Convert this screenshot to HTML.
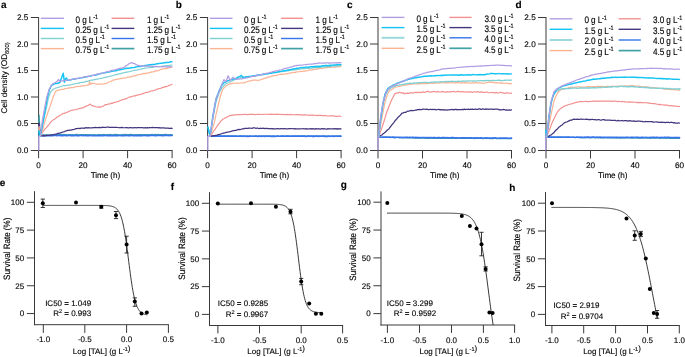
<!DOCTYPE html>
<html><head><meta charset="utf-8"><style>
html,body{margin:0;padding:0;background:#fff;overflow:hidden}
svg{display:block;will-change:transform}
text{text-rendering:geometricPrecision;stroke:#000;stroke-width:0.12px;paint-order:stroke}
text{font-family:"Liberation Sans", sans-serif}
</style></head><body>
<svg width="685" height="357" viewBox="0 0 685 357" font-family='"Liberation Sans", sans-serif'>
<rect width="685" height="357" fill="#fff"/>
<text x="1.0" y="8.2" font-size="10" text-anchor="start" fill="#000" font-weight="bold" >a</text>
<line x1="38.6" y1="17.0" x2="38.6" y2="151" stroke="#3a3a3a" stroke-width="1"/>
<line x1="30.900000000000002" y1="17.5" x2="38.6" y2="17.5" stroke="#3a3a3a" stroke-width="1"/>
<text x="28.3" y="20.0" font-size="8.2" text-anchor="end" fill="#000" font-weight="normal" >2.5</text>
<line x1="30.900000000000002" y1="44.0" x2="38.6" y2="44.0" stroke="#3a3a3a" stroke-width="1"/>
<text x="28.3" y="46.5" font-size="8.2" text-anchor="end" fill="#000" font-weight="normal" >2.0</text>
<line x1="30.900000000000002" y1="70.5" x2="38.6" y2="70.5" stroke="#3a3a3a" stroke-width="1"/>
<text x="28.3" y="73.0" font-size="8.2" text-anchor="end" fill="#000" font-weight="normal" >1.5</text>
<line x1="30.900000000000002" y1="97.0" x2="38.6" y2="97.0" stroke="#3a3a3a" stroke-width="1"/>
<text x="28.3" y="99.5" font-size="8.2" text-anchor="end" fill="#000" font-weight="normal" >1.0</text>
<line x1="30.900000000000002" y1="123.5" x2="38.6" y2="123.5" stroke="#3a3a3a" stroke-width="1"/>
<text x="28.3" y="126.0" font-size="8.2" text-anchor="end" fill="#000" font-weight="normal" >0.5</text>
<line x1="30.900000000000002" y1="150.5" x2="38.6" y2="150.5" stroke="#3a3a3a" stroke-width="1"/>
<text x="28.3" y="153.0" font-size="8.2" text-anchor="end" fill="#000" font-weight="normal" >0.0</text>
<line x1="30.900000000000002" y1="150.5" x2="172.6" y2="150.5" stroke="#3a3a3a" stroke-width="1"/>
<line x1="38.6" y1="150.5" x2="38.6" y2="158.2" stroke="#3a3a3a" stroke-width="1"/>
<text x="38.6" y="167.8" font-size="8.2" text-anchor="middle" fill="#000" font-weight="normal" >0</text>
<line x1="83.1" y1="150.5" x2="83.1" y2="158.2" stroke="#3a3a3a" stroke-width="1"/>
<text x="83.1" y="167.8" font-size="8.2" text-anchor="middle" fill="#000" font-weight="normal" >20</text>
<line x1="127.6" y1="150.5" x2="127.6" y2="158.2" stroke="#3a3a3a" stroke-width="1"/>
<text x="127.6" y="167.8" font-size="8.2" text-anchor="middle" fill="#000" font-weight="normal" >40</text>
<line x1="172.1" y1="150.5" x2="172.1" y2="158.2" stroke="#3a3a3a" stroke-width="1"/>
<text x="172.1" y="167.8" font-size="8.2" text-anchor="middle" fill="#000" font-weight="normal" >60</text>
<text x="105.35" y="177.8" font-size="8.2" text-anchor="middle" fill="#000" font-weight="normal" letter-spacing="-0.1">Time (h)</text>
<text transform="translate(6.900000000000002,77.9) rotate(-90)" font-size="8.2" text-anchor="middle" fill="#000">Cell density (OD<tspan dy="2.3" font-size="5.8">600)</tspan></text>
<line x1="40.8" y1="18.3" x2="63.9" y2="18.3" stroke="#b29de3" stroke-width="1.4"/>
<text transform="translate(75.6,22.5) scale(1,1.15)" x="0" y="0" font-size="8.2" fill="#000" letter-spacing="-0.1">0 g L<tspan dy="-3" font-size="5.5">-1</tspan></text>
<line x1="40.8" y1="28.4" x2="63.9" y2="28.4" stroke="#12c3f3" stroke-width="1.4"/>
<text transform="translate(75.6,32.6) scale(1,1.15)" x="0" y="0" font-size="8.2" fill="#000" letter-spacing="-0.1">0.25 g L<tspan dy="-3" font-size="5.5">-1</tspan></text>
<line x1="40.8" y1="38.5" x2="63.9" y2="38.5" stroke="#7fd0d2" stroke-width="1.4"/>
<text transform="translate(75.6,42.7) scale(1,1.15)" x="0" y="0" font-size="8.2" fill="#000" letter-spacing="-0.1">0.5 g L<tspan dy="-3" font-size="5.5">-1</tspan></text>
<line x1="40.8" y1="48.6" x2="63.9" y2="48.6" stroke="#fab393" stroke-width="1.4"/>
<text transform="translate(75.6,52.800000000000004) scale(1,1.15)" x="0" y="0" font-size="8.2" fill="#000" letter-spacing="-0.1">0.75 g L<tspan dy="-3" font-size="5.5">-1</tspan></text>
<line x1="111.6" y1="18.3" x2="134.3" y2="18.3" stroke="#f39090" stroke-width="1.4"/>
<text transform="translate(146.9,22.5) scale(1,1.15)" x="0" y="0" font-size="8.2" fill="#000" letter-spacing="-0.1">1 g L<tspan dy="-3" font-size="5.5">-1</tspan></text>
<line x1="111.6" y1="28.4" x2="134.3" y2="28.4" stroke="#45357e" stroke-width="1.4"/>
<text transform="translate(146.9,32.6) scale(1,1.15)" x="0" y="0" font-size="8.2" fill="#000" letter-spacing="-0.1">1.25 g L<tspan dy="-3" font-size="5.5">-1</tspan></text>
<line x1="111.6" y1="38.5" x2="134.3" y2="38.5" stroke="#3574ea" stroke-width="1.4"/>
<text transform="translate(146.9,42.7) scale(1,1.15)" x="0" y="0" font-size="8.2" fill="#000" letter-spacing="-0.1">1.5 g L<tspan dy="-3" font-size="5.5">-1</tspan></text>
<line x1="111.6" y1="48.6" x2="134.3" y2="48.6" stroke="#41a2a6" stroke-width="1.7"/>
<text transform="translate(146.9,52.800000000000004) scale(1,1.15)" x="0" y="0" font-size="8.2" fill="#000" letter-spacing="-0.1">1.75 g L<tspan dy="-3" font-size="5.5">-1</tspan></text>
<text x="175.8" y="7.9" font-size="10" text-anchor="start" fill="#000" font-weight="bold" >b</text>
<line x1="207.6" y1="17.0" x2="207.6" y2="151" stroke="#3a3a3a" stroke-width="1"/>
<line x1="199.9" y1="17.5" x2="207.6" y2="17.5" stroke="#3a3a3a" stroke-width="1"/>
<text x="197.29999999999998" y="20.0" font-size="8.2" text-anchor="end" fill="#000" font-weight="normal" >2.5</text>
<line x1="199.9" y1="44.0" x2="207.6" y2="44.0" stroke="#3a3a3a" stroke-width="1"/>
<text x="197.29999999999998" y="46.5" font-size="8.2" text-anchor="end" fill="#000" font-weight="normal" >2.0</text>
<line x1="199.9" y1="70.5" x2="207.6" y2="70.5" stroke="#3a3a3a" stroke-width="1"/>
<text x="197.29999999999998" y="73.0" font-size="8.2" text-anchor="end" fill="#000" font-weight="normal" >1.5</text>
<line x1="199.9" y1="97.0" x2="207.6" y2="97.0" stroke="#3a3a3a" stroke-width="1"/>
<text x="197.29999999999998" y="99.5" font-size="8.2" text-anchor="end" fill="#000" font-weight="normal" >1.0</text>
<line x1="199.9" y1="123.5" x2="207.6" y2="123.5" stroke="#3a3a3a" stroke-width="1"/>
<text x="197.29999999999998" y="126.0" font-size="8.2" text-anchor="end" fill="#000" font-weight="normal" >0.5</text>
<line x1="199.9" y1="150.5" x2="207.6" y2="150.5" stroke="#3a3a3a" stroke-width="1"/>
<text x="197.29999999999998" y="153.0" font-size="8.2" text-anchor="end" fill="#000" font-weight="normal" >0.0</text>
<line x1="199.9" y1="150.5" x2="341.6" y2="150.5" stroke="#3a3a3a" stroke-width="1"/>
<line x1="207.6" y1="150.5" x2="207.6" y2="158.2" stroke="#3a3a3a" stroke-width="1"/>
<text x="207.6" y="167.8" font-size="8.2" text-anchor="middle" fill="#000" font-weight="normal" >0</text>
<line x1="252.1" y1="150.5" x2="252.1" y2="158.2" stroke="#3a3a3a" stroke-width="1"/>
<text x="252.1" y="167.8" font-size="8.2" text-anchor="middle" fill="#000" font-weight="normal" >20</text>
<line x1="296.6" y1="150.5" x2="296.6" y2="158.2" stroke="#3a3a3a" stroke-width="1"/>
<text x="296.6" y="167.8" font-size="8.2" text-anchor="middle" fill="#000" font-weight="normal" >40</text>
<line x1="341.1" y1="150.5" x2="341.1" y2="158.2" stroke="#3a3a3a" stroke-width="1"/>
<text x="341.1" y="167.8" font-size="8.2" text-anchor="middle" fill="#000" font-weight="normal" >60</text>
<text x="274.35" y="177.8" font-size="8.2" text-anchor="middle" fill="#000" font-weight="normal" letter-spacing="-0.1">Time (h)</text>
<line x1="209.8" y1="18.3" x2="232.5" y2="18.3" stroke="#b29de3" stroke-width="1.4"/>
<text transform="translate(244.1,22.5) scale(1,1.15)" x="0" y="0" font-size="8.2" fill="#000" letter-spacing="-0.1">0 g L<tspan dy="-3" font-size="5.5">-1</tspan></text>
<line x1="209.8" y1="28.4" x2="232.5" y2="28.4" stroke="#12c3f3" stroke-width="1.4"/>
<text transform="translate(244.1,32.6) scale(1,1.15)" x="0" y="0" font-size="8.2" fill="#000" letter-spacing="-0.1">0.25 g L<tspan dy="-3" font-size="5.5">-1</tspan></text>
<line x1="209.8" y1="38.5" x2="232.5" y2="38.5" stroke="#7fd0d2" stroke-width="1.4"/>
<text transform="translate(244.1,42.7) scale(1,1.15)" x="0" y="0" font-size="8.2" fill="#000" letter-spacing="-0.1">0.5 g L<tspan dy="-3" font-size="5.5">-1</tspan></text>
<line x1="209.8" y1="48.6" x2="232.5" y2="48.6" stroke="#fab393" stroke-width="1.4"/>
<text transform="translate(244.1,52.800000000000004) scale(1,1.15)" x="0" y="0" font-size="8.2" fill="#000" letter-spacing="-0.1">0.75 g L<tspan dy="-3" font-size="5.5">-1</tspan></text>
<line x1="281.1" y1="18.3" x2="302.9" y2="18.3" stroke="#f39090" stroke-width="1.4"/>
<text transform="translate(315.6,22.5) scale(1,1.15)" x="0" y="0" font-size="8.2" fill="#000" letter-spacing="-0.1">1 g L<tspan dy="-3" font-size="5.5">-1</tspan></text>
<line x1="281.1" y1="28.4" x2="302.9" y2="28.4" stroke="#45357e" stroke-width="1.4"/>
<text transform="translate(315.6,32.6) scale(1,1.15)" x="0" y="0" font-size="8.2" fill="#000" letter-spacing="-0.1">1.25 g L<tspan dy="-3" font-size="5.5">-1</tspan></text>
<line x1="281.1" y1="38.5" x2="302.9" y2="38.5" stroke="#3574ea" stroke-width="1.4"/>
<text transform="translate(315.6,42.7) scale(1,1.15)" x="0" y="0" font-size="8.2" fill="#000" letter-spacing="-0.1">1.5 g L<tspan dy="-3" font-size="5.5">-1</tspan></text>
<line x1="281.1" y1="48.6" x2="302.9" y2="48.6" stroke="#41a2a6" stroke-width="1.7"/>
<text transform="translate(315.6,52.800000000000004) scale(1,1.15)" x="0" y="0" font-size="8.2" fill="#000" letter-spacing="-0.1">1.75 g L<tspan dy="-3" font-size="5.5">-1</tspan></text>
<text x="347.0" y="8.4" font-size="10" text-anchor="start" fill="#000" font-weight="bold" >c</text>
<line x1="378.0" y1="17.0" x2="378.0" y2="151" stroke="#3a3a3a" stroke-width="1"/>
<line x1="370.0" y1="17.5" x2="378.0" y2="17.5" stroke="#3a3a3a" stroke-width="1"/>
<text x="367.7" y="20.0" font-size="8.2" text-anchor="end" fill="#000" font-weight="normal" >2.5</text>
<line x1="370.0" y1="44.0" x2="378.0" y2="44.0" stroke="#3a3a3a" stroke-width="1"/>
<text x="367.7" y="46.5" font-size="8.2" text-anchor="end" fill="#000" font-weight="normal" >2.0</text>
<line x1="370.0" y1="70.5" x2="378.0" y2="70.5" stroke="#3a3a3a" stroke-width="1"/>
<text x="367.7" y="73.0" font-size="8.2" text-anchor="end" fill="#000" font-weight="normal" >1.5</text>
<line x1="370.0" y1="97.0" x2="378.0" y2="97.0" stroke="#3a3a3a" stroke-width="1"/>
<text x="367.7" y="99.5" font-size="8.2" text-anchor="end" fill="#000" font-weight="normal" >1.0</text>
<line x1="370.0" y1="123.5" x2="378.0" y2="123.5" stroke="#3a3a3a" stroke-width="1"/>
<text x="367.7" y="126.0" font-size="8.2" text-anchor="end" fill="#000" font-weight="normal" >0.5</text>
<line x1="370.0" y1="150.5" x2="378.0" y2="150.5" stroke="#3a3a3a" stroke-width="1"/>
<text x="367.7" y="153.0" font-size="8.2" text-anchor="end" fill="#000" font-weight="normal" >0.0</text>
<line x1="370.0" y1="150.5" x2="512.0" y2="150.5" stroke="#3a3a3a" stroke-width="1"/>
<line x1="378.0" y1="150.5" x2="378.0" y2="158.5" stroke="#3a3a3a" stroke-width="1"/>
<text x="378.0" y="167.8" font-size="8.2" text-anchor="middle" fill="#000" font-weight="normal" >0</text>
<line x1="422.5" y1="150.5" x2="422.5" y2="158.5" stroke="#3a3a3a" stroke-width="1"/>
<text x="422.5" y="167.8" font-size="8.2" text-anchor="middle" fill="#000" font-weight="normal" >20</text>
<line x1="467.0" y1="150.5" x2="467.0" y2="158.5" stroke="#3a3a3a" stroke-width="1"/>
<text x="467.0" y="167.8" font-size="8.2" text-anchor="middle" fill="#000" font-weight="normal" >40</text>
<line x1="511.5" y1="150.5" x2="511.5" y2="158.5" stroke="#3a3a3a" stroke-width="1"/>
<text x="511.5" y="167.8" font-size="8.2" text-anchor="middle" fill="#000" font-weight="normal" >60</text>
<text x="444.75" y="177.8" font-size="8.2" text-anchor="middle" fill="#000" font-weight="normal" letter-spacing="-0.1">Time (h)</text>
<line x1="381.6" y1="17.4" x2="404.4" y2="17.4" stroke="#b29de3" stroke-width="1.4"/>
<text transform="translate(416.4,21.599999999999998) scale(1,1.15)" x="0" y="0" font-size="8.2" fill="#000" letter-spacing="-0.1">0 g L<tspan dy="-3" font-size="5.5">-1</tspan></text>
<line x1="381.6" y1="27.6" x2="404.4" y2="27.6" stroke="#12c3f3" stroke-width="1.4"/>
<text transform="translate(416.4,31.8) scale(1,1.15)" x="0" y="0" font-size="8.2" fill="#000" letter-spacing="-0.1">1.5 g L<tspan dy="-3" font-size="5.5">-1</tspan></text>
<line x1="381.6" y1="37.8" x2="404.4" y2="37.8" stroke="#98d8dd" stroke-width="1.9"/>
<text transform="translate(416.4,42.0) scale(1,1.15)" x="0" y="0" font-size="8.2" fill="#000" letter-spacing="-0.1">2.0 g L<tspan dy="-3" font-size="5.5">-1</tspan></text>
<line x1="381.6" y1="48.3" x2="404.4" y2="48.3" stroke="#fab393" stroke-width="1.4"/>
<text transform="translate(416.4,52.5) scale(1,1.15)" x="0" y="0" font-size="8.2" fill="#000" letter-spacing="-0.1">2.5 g L<tspan dy="-3" font-size="5.5">-1</tspan></text>
<line x1="449.4" y1="17.4" x2="471.6" y2="17.4" stroke="#f39090" stroke-width="1.4"/>
<text transform="translate(484.4,21.599999999999998) scale(1,1.15)" x="0" y="0" font-size="8.2" fill="#000" letter-spacing="-0.1">3.0 g L<tspan dy="-3" font-size="5.5">-1</tspan></text>
<line x1="449.4" y1="27.6" x2="471.6" y2="27.6" stroke="#45357e" stroke-width="1.4"/>
<text transform="translate(484.4,31.8) scale(1,1.15)" x="0" y="0" font-size="8.2" fill="#000" letter-spacing="-0.1">3.5 g L<tspan dy="-3" font-size="5.5">-1</tspan></text>
<line x1="449.4" y1="37.8" x2="471.6" y2="37.8" stroke="#3574ea" stroke-width="1.4"/>
<text transform="translate(484.4,42.0) scale(1,1.15)" x="0" y="0" font-size="8.2" fill="#000" letter-spacing="-0.1">4.0 g L<tspan dy="-3" font-size="5.5">-1</tspan></text>
<line x1="449.4" y1="48.3" x2="471.6" y2="48.3" stroke="#41a2a6" stroke-width="1.7"/>
<text transform="translate(484.4,52.5) scale(1,1.15)" x="0" y="0" font-size="8.2" fill="#000" letter-spacing="-0.1">4.5 g L<tspan dy="-3" font-size="5.5">-1</tspan></text>
<text x="515.5" y="8.1" font-size="10" text-anchor="start" fill="#000" font-weight="bold" >d</text>
<line x1="546.0" y1="17.0" x2="546.0" y2="151" stroke="#3a3a3a" stroke-width="1"/>
<line x1="538.0" y1="17.5" x2="546.0" y2="17.5" stroke="#3a3a3a" stroke-width="1"/>
<text x="535.7" y="20.0" font-size="8.2" text-anchor="end" fill="#000" font-weight="normal" >2.5</text>
<line x1="538.0" y1="44.0" x2="546.0" y2="44.0" stroke="#3a3a3a" stroke-width="1"/>
<text x="535.7" y="46.5" font-size="8.2" text-anchor="end" fill="#000" font-weight="normal" >2.0</text>
<line x1="538.0" y1="70.5" x2="546.0" y2="70.5" stroke="#3a3a3a" stroke-width="1"/>
<text x="535.7" y="73.0" font-size="8.2" text-anchor="end" fill="#000" font-weight="normal" >1.5</text>
<line x1="538.0" y1="97.0" x2="546.0" y2="97.0" stroke="#3a3a3a" stroke-width="1"/>
<text x="535.7" y="99.5" font-size="8.2" text-anchor="end" fill="#000" font-weight="normal" >1.0</text>
<line x1="538.0" y1="123.5" x2="546.0" y2="123.5" stroke="#3a3a3a" stroke-width="1"/>
<text x="535.7" y="126.0" font-size="8.2" text-anchor="end" fill="#000" font-weight="normal" >0.5</text>
<line x1="538.0" y1="150.5" x2="546.0" y2="150.5" stroke="#3a3a3a" stroke-width="1"/>
<text x="535.7" y="153.0" font-size="8.2" text-anchor="end" fill="#000" font-weight="normal" >0.0</text>
<line x1="538.0" y1="150.5" x2="680.0" y2="150.5" stroke="#3a3a3a" stroke-width="1"/>
<line x1="546.0" y1="150.5" x2="546.0" y2="158.5" stroke="#3a3a3a" stroke-width="1"/>
<text x="546.0" y="167.8" font-size="8.2" text-anchor="middle" fill="#000" font-weight="normal" >0</text>
<line x1="590.5" y1="150.5" x2="590.5" y2="158.5" stroke="#3a3a3a" stroke-width="1"/>
<text x="590.5" y="167.8" font-size="8.2" text-anchor="middle" fill="#000" font-weight="normal" >20</text>
<line x1="635.0" y1="150.5" x2="635.0" y2="158.5" stroke="#3a3a3a" stroke-width="1"/>
<text x="635.0" y="167.8" font-size="8.2" text-anchor="middle" fill="#000" font-weight="normal" >40</text>
<line x1="679.5" y1="150.5" x2="679.5" y2="158.5" stroke="#3a3a3a" stroke-width="1"/>
<text x="679.5" y="167.8" font-size="8.2" text-anchor="middle" fill="#000" font-weight="normal" >60</text>
<text x="612.75" y="177.8" font-size="8.2" text-anchor="middle" fill="#000" font-weight="normal" letter-spacing="-0.1">Time (h)</text>
<line x1="549.6" y1="18.8" x2="572.4" y2="18.8" stroke="#b29de3" stroke-width="1.4"/>
<text transform="translate(584.4,23.0) scale(1,1.15)" x="0" y="0" font-size="8.2" fill="#000" letter-spacing="-0.1">0 g L<tspan dy="-3" font-size="5.5">-1</tspan></text>
<line x1="549.6" y1="29.3" x2="572.4" y2="29.3" stroke="#12c3f3" stroke-width="1.4"/>
<text transform="translate(584.4,33.5) scale(1,1.15)" x="0" y="0" font-size="8.2" fill="#000" letter-spacing="-0.1">1.5 g L<tspan dy="-3" font-size="5.5">-1</tspan></text>
<line x1="549.6" y1="40.0" x2="572.4" y2="40.0" stroke="#98d8dd" stroke-width="1.9"/>
<text transform="translate(584.4,44.2) scale(1,1.15)" x="0" y="0" font-size="8.2" fill="#000" letter-spacing="-0.1">2.0 g L<tspan dy="-3" font-size="5.5">-1</tspan></text>
<line x1="549.6" y1="50.6" x2="572.4" y2="50.6" stroke="#fab393" stroke-width="1.4"/>
<text transform="translate(584.4,54.800000000000004) scale(1,1.15)" x="0" y="0" font-size="8.2" fill="#000" letter-spacing="-0.1">2.5 g L<tspan dy="-3" font-size="5.5">-1</tspan></text>
<line x1="618.6" y1="18.8" x2="640.8" y2="18.8" stroke="#f39090" stroke-width="1.4"/>
<text transform="translate(653.1,23.0) scale(1,1.15)" x="0" y="0" font-size="8.2" fill="#000" letter-spacing="-0.1">3.0 g L<tspan dy="-3" font-size="5.5">-1</tspan></text>
<line x1="618.6" y1="29.3" x2="640.8" y2="29.3" stroke="#45357e" stroke-width="1.4"/>
<text transform="translate(653.1,33.5) scale(1,1.15)" x="0" y="0" font-size="8.2" fill="#000" letter-spacing="-0.1">3.5 g L<tspan dy="-3" font-size="5.5">-1</tspan></text>
<line x1="618.6" y1="40.0" x2="640.8" y2="40.0" stroke="#3574ea" stroke-width="1.4"/>
<text transform="translate(653.1,44.2) scale(1,1.15)" x="0" y="0" font-size="8.2" fill="#000" letter-spacing="-0.1">4.0 g L<tspan dy="-3" font-size="5.5">-1</tspan></text>
<line x1="618.6" y1="50.6" x2="640.8" y2="50.6" stroke="#41a2a6" stroke-width="1.7"/>
<text transform="translate(653.1,54.800000000000004) scale(1,1.15)" x="0" y="0" font-size="8.2" fill="#000" letter-spacing="-0.1">4.5 g L<tspan dy="-3" font-size="5.5">-1</tspan></text>
<polyline points="38.80,122.40 39.20,118.02 40.40,134.95 41.43,135.02 42.46,135.01 43.49,134.76 44.53,134.72 45.56,135.03 46.59,134.78 47.62,134.75 48.65,135.03 49.68,134.80 50.72,134.92 51.75,134.76 52.78,134.80 53.81,134.59 54.84,134.76 55.87,134.83 56.91,134.67 57.94,134.74 58.97,134.69 60.00,134.43 61.00,134.70 62.00,134.64 63.01,134.52 64.01,134.41 65.01,134.75 66.01,134.59 67.01,134.69 68.01,134.75 69.02,134.69 70.02,134.77 71.02,134.56 72.02,134.72 73.02,134.58 74.03,134.77 75.03,134.75 76.03,134.44 77.03,134.45 78.03,134.49 79.03,134.79 80.04,134.57 81.04,134.65 82.04,134.52 83.04,134.60 84.04,134.55 85.04,134.54 86.05,134.63 87.05,134.63 88.05,134.76 89.05,134.67 90.05,134.77 91.06,134.74 92.06,134.80 93.06,134.67 94.06,134.47 95.06,134.74 96.06,134.79 97.07,134.76 98.07,134.63 99.07,134.69 100.07,134.48 101.07,134.73 102.07,134.63 103.08,134.51 104.08,134.43 105.08,134.74 106.08,134.80 107.08,134.44 108.09,134.72 109.09,134.56 110.09,134.46 111.09,134.52 112.09,134.71 113.09,134.75 114.10,134.42 115.10,134.65 116.10,134.42 117.10,134.69 118.10,134.53 119.11,134.75 120.11,134.79 121.11,134.60 122.11,134.80 123.11,134.52 124.11,134.43 125.12,134.64 126.12,134.41 127.12,134.48 128.12,134.56 129.12,134.64 130.12,134.46 131.13,134.42 132.13,134.75 133.13,134.53 134.13,134.78 135.13,134.76 136.14,134.55 137.14,134.58 138.14,134.61 139.14,134.66 140.14,134.64 141.14,134.62 142.15,134.65 143.15,134.78 144.15,134.60 145.15,134.57 146.15,134.69 147.16,134.50 148.16,134.52 149.16,134.79 150.16,134.61 151.16,134.62 152.16,134.40 153.17,134.57 154.17,134.63 155.17,134.41 156.17,134.65 157.17,134.65 158.17,134.42 159.18,134.65 160.18,134.59 161.18,134.67 162.18,134.54 163.18,134.68 164.19,134.70 165.19,134.41 166.19,134.42 167.19,134.67 168.19,134.79 169.19,134.50 170.20,134.58 171.20,134.64 172.20,134.60" fill="none" stroke="#41a2a6" stroke-width="1.2" stroke-linejoin="round" stroke-linecap="round" />
<polyline points="38.80,125.95 40.40,135.66 41.43,135.63 42.46,135.64 43.49,135.70 44.53,135.60 45.56,135.61 46.59,135.72 47.62,135.48 48.65,135.64 49.68,135.68 50.72,135.54 51.75,135.50 52.78,135.66 53.81,135.48 54.84,135.46 55.87,135.52 56.91,135.59 57.94,135.40 58.97,135.46 60.00,135.45 61.00,135.60 62.00,135.49 63.00,135.61 64.00,135.41 65.00,135.46 66.00,135.56 67.00,135.63 68.00,135.51 69.00,135.44 70.00,135.41 71.00,135.54 72.00,135.44 73.00,135.62 74.00,135.64 75.00,135.44 76.00,135.47 77.00,135.63 78.00,135.59 79.00,135.64 80.00,135.50 81.00,135.44 82.00,135.49 83.00,135.65 84.00,135.49 85.00,135.52 86.00,135.54 87.00,135.54 88.00,135.54 89.00,135.70 90.00,135.47 91.00,135.43 92.00,135.71 93.00,135.70 94.00,135.73 95.00,135.57 96.00,135.73 97.00,135.72 98.00,135.51 99.00,135.67 100.00,135.70 101.00,135.65 102.01,135.60 103.01,135.53 104.01,135.55 105.01,135.51 106.02,135.46 107.02,135.62 108.02,135.52 109.03,135.68 110.03,135.45 111.03,135.71 112.03,135.64 113.04,135.71 114.04,135.70 115.04,135.70 116.04,135.60 117.05,135.43 118.05,135.65 119.05,135.48 120.06,135.51 121.06,135.62 122.06,135.58 123.06,135.54 124.07,135.70 125.07,135.60 126.07,135.52 127.07,135.49 128.08,135.67 129.08,135.55 130.08,135.64 131.09,135.51 132.09,135.46 133.09,135.56 134.09,135.65 135.10,135.45 136.10,135.64 137.10,135.68 138.11,135.64 139.11,135.64 140.11,135.40 141.11,135.58 142.12,135.65 143.12,135.41 144.12,135.47 145.12,135.47 146.13,135.54 147.13,135.51 148.13,135.53 149.14,135.61 150.14,135.38 151.14,135.40 152.14,135.42 153.15,135.41 154.15,135.40 155.15,135.67 156.16,135.63 157.16,135.40 158.16,135.52 159.16,135.46 160.17,135.46 161.17,135.47 162.17,135.56 163.17,135.54 164.18,135.47 165.18,135.42 166.18,135.46 167.19,135.39 168.19,135.52 169.19,135.57 170.19,135.47 171.20,135.38 172.20,135.50" fill="none" stroke="#3574ea" stroke-width="1.7" stroke-linejoin="round" stroke-linecap="round" />
<polyline points="38.80,123.84 40.40,135.64 41.52,135.73 42.64,135.80 43.76,135.58 44.88,135.77 46.00,135.66 47.07,135.45 48.13,135.30 49.20,135.25 50.27,135.23 51.33,134.98 52.40,135.00 53.42,134.66 54.45,134.32 55.48,134.24 56.50,134.10 57.50,133.49 58.50,133.36 59.50,133.06 60.50,132.99 61.50,132.67 62.50,132.04 63.50,131.95 64.50,131.55 65.55,130.98 66.60,130.78 67.65,130.31 68.70,130.36 69.73,130.09 70.75,130.02 71.78,129.78 72.80,129.53 73.83,129.38 74.85,129.11 75.88,128.69 76.90,128.74 77.92,128.37 78.93,128.36 79.95,128.59 80.97,128.14 81.98,128.08 83.00,128.00 84.02,128.31 85.03,127.87 86.05,127.71 87.07,128.04 88.08,127.59 89.10,127.87 90.13,127.76 91.16,127.82 92.18,127.86 93.21,127.65 94.24,127.74 95.27,127.33 96.29,127.68 97.32,127.53 98.35,127.61 99.38,127.28 100.41,127.58 101.43,127.65 102.46,127.19 103.49,127.30 104.52,127.40 105.54,127.51 106.57,127.19 107.60,127.14 108.62,127.19 109.64,127.40 110.66,127.49 111.68,127.33 112.70,127.33 113.72,127.37 114.74,127.37 115.76,127.42 116.78,127.27 117.80,127.50 118.82,127.76 119.84,127.50 120.86,127.68 121.88,127.41 122.90,127.70 123.92,127.75 124.94,127.73 125.96,127.67 126.98,127.67 128.00,127.77 129.02,127.90 130.05,127.52 131.07,127.50 132.09,127.82 133.12,127.91 134.14,127.71 135.16,127.67 136.19,127.81 137.21,127.54 138.23,127.58 139.26,127.55 140.28,127.74 141.30,127.61 142.33,127.57 143.35,127.80 144.37,127.93 145.40,127.60 146.42,127.80 147.44,127.66 148.47,127.88 149.49,127.74 150.51,127.58 151.54,127.56 152.56,127.46 153.58,127.69 154.61,127.64 155.63,127.54 156.65,127.63 157.68,127.61 158.70,127.84 159.74,127.57 160.78,128.04 161.82,127.83 162.85,127.93 163.89,127.91 164.93,128.14 165.97,128.18 167.01,128.10 168.05,128.11 169.08,128.27 170.12,128.39 171.16,128.20 172.20,128.30" fill="none" stroke="#45357e" stroke-width="1.25" stroke-linejoin="round" stroke-linecap="round" />
<polyline points="40.40,135.84 41.70,133.88 43.00,131.48 44.07,130.07 45.13,128.81 46.20,127.83 47.22,126.59 48.24,125.54 49.26,124.25 50.28,122.67 51.30,121.41 52.32,120.64 53.34,119.77 54.36,119.26 55.38,118.54 56.40,117.74 57.44,116.73 58.48,116.48 59.52,115.53 60.56,114.97 61.60,114.54 62.62,113.75 63.64,113.36 64.66,113.40 65.68,112.68 66.70,112.31 67.72,112.03 68.74,111.67 69.76,110.84 70.78,110.62 71.80,110.26 72.82,110.09 73.84,109.73 74.86,109.75 75.88,109.77 76.90,109.23 77.92,109.06 78.93,108.54 79.95,108.36 80.97,108.33 81.98,107.73 83.00,107.93 84.02,107.45 85.04,106.46 86.06,106.46 87.08,105.62 88.10,105.36 89.15,104.85 90.20,104.08 91.20,105.01 92.20,105.69 93.22,106.04 94.24,105.98 95.26,106.53 96.28,106.92 97.30,107.00 98.33,107.06 99.37,106.93 100.40,107.30 101.42,106.71 102.44,106.43 103.46,105.91 104.48,105.34 105.50,104.61 106.53,104.64 107.55,104.38 108.58,103.86 109.60,104.03 110.62,103.64 111.65,103.07 112.67,103.31 113.70,102.58 114.73,102.36 115.75,102.26 116.78,101.85 117.80,101.48 118.83,101.20 119.85,100.75 120.88,100.32 121.90,99.91 122.93,99.45 123.95,99.45 124.97,99.09 126.00,98.58 127.03,98.31 128.05,97.69 129.07,97.25 130.10,96.93 131.11,96.97 132.12,96.23 133.14,96.25 134.15,95.85 135.16,95.91 136.17,95.41 137.19,95.15 138.20,94.94 139.27,94.71 140.35,94.53 141.42,93.96 142.49,93.94 143.56,93.18 144.64,92.95 145.71,92.53 146.78,92.22 147.85,92.30 148.93,91.95 150.00,91.31 151.00,91.01 152.00,90.85 153.00,90.75 154.00,90.49 155.00,90.15 156.00,89.76 157.00,89.19 158.00,89.04 159.00,88.62 160.00,88.52 161.00,88.20 162.00,87.64 163.00,87.33 164.00,87.30 165.00,86.51 166.00,86.63 167.00,86.34 168.00,86.04 169.00,85.35 170.00,85.11 171.00,84.79 172.00,84.40" fill="none" stroke="#f39090" stroke-width="1.2" stroke-linejoin="round" stroke-linecap="round" />
<polyline points="38.80,128.09 40.40,136.03 41.45,132.98 42.50,129.86 43.80,125.50 45.10,120.49 46.23,117.37 47.35,114.26 48.48,110.55 49.60,107.89 50.83,104.18 52.07,100.43 53.30,96.82 54.40,94.12 55.50,91.29 56.65,90.92 57.80,89.98 58.83,90.05 59.87,89.90 60.90,89.51 61.93,89.35 62.97,89.37 64.00,89.07 65.00,88.42 66.00,88.75 67.00,88.50 68.00,87.97 69.00,88.06 70.00,87.84 71.00,87.60 72.00,87.67 73.00,87.68 74.00,87.00 75.00,87.12 76.00,86.74 77.00,86.22 78.00,86.60 79.00,86.30 80.00,86.40 81.00,86.13 82.00,86.02 83.00,85.62 84.00,85.81 85.00,85.74 86.00,85.53 87.00,85.08 88.00,85.14 89.00,84.79 89.60,81.03 90.20,84.48 92.00,83.20 93.09,83.39 94.17,83.46 95.26,83.80 96.34,84.04 97.43,84.03 98.51,84.05 99.60,84.30 100.68,83.96 101.76,83.98 102.84,84.08 103.92,83.73 105.00,83.48 106.00,83.58 107.00,83.05 108.00,82.41 109.00,82.01 110.00,81.72 111.00,81.37 112.00,80.71 113.00,80.15 114.00,79.90 115.00,79.90 116.00,79.30 117.00,79.36 118.00,79.02 119.00,78.88 120.00,78.70 121.00,78.71 122.00,78.39 123.00,78.13 124.00,78.04 125.00,77.92 126.00,77.99 127.00,77.44 128.00,77.17 129.00,77.21 130.00,76.94 131.00,76.89 132.00,76.19 133.00,76.18 134.00,75.93 135.00,75.42 136.00,75.83 137.00,75.05 138.00,74.72 139.00,74.73 140.00,74.27 141.00,74.39 142.00,73.99 143.00,73.64 144.00,73.39 145.00,73.66 146.00,73.14 147.00,73.30 148.00,72.88 149.00,73.00 150.00,72.36 151.00,72.07 152.00,71.84 153.00,71.97 154.00,71.59 155.00,71.14 156.00,70.72 157.00,70.88 158.00,70.83 159.00,70.31 160.00,69.65 161.00,69.42 162.00,69.21 163.00,69.02 164.00,68.68 165.00,68.44 166.00,68.61 167.00,68.53 168.00,67.79 169.00,68.08 170.00,67.48 171.00,67.46 172.00,67.00" fill="none" stroke="#fab393" stroke-width="1.2" stroke-linejoin="round" stroke-linecap="round" />
<polyline points="40.40,135.87 41.43,130.64 42.47,125.05 43.50,119.92 44.50,115.94 45.50,111.98 46.50,107.54 47.60,102.17 48.70,96.94 49.85,94.00 51.00,91.46 52.25,90.18 53.50,89.07 54.58,88.75 55.65,88.02 56.72,87.82 57.80,87.39 58.83,87.13 59.87,86.72 60.90,86.57 61.93,86.05 62.97,85.77 64.00,85.39 65.00,85.71 66.00,85.69 67.00,85.41 68.00,85.17 69.00,85.19 70.00,84.94 71.00,84.78 72.00,84.45 73.00,84.29 74.00,83.96 75.00,83.98 76.00,83.51 77.00,83.46 78.00,83.35 79.00,83.10 80.00,82.64 81.00,82.47 82.00,82.49 83.00,82.18 84.00,82.05 85.00,81.82 86.00,81.43 87.00,81.38 88.00,81.09 89.00,80.71 90.00,80.50 91.00,80.15 92.00,80.06 93.00,80.10 94.00,79.59 95.00,79.59 96.00,79.23 97.00,79.04 98.00,79.09 99.00,78.75 100.00,78.50 101.00,78.36 102.00,78.31 103.00,78.03 104.00,77.55 105.00,77.38 106.00,77.43 107.00,76.87 108.00,76.76 109.00,76.45 110.00,76.34 111.00,76.02 112.00,75.84 113.00,75.49 114.00,75.10 115.00,74.84 116.00,74.55 117.00,74.60 118.00,74.06 119.00,73.77 120.00,73.90 121.00,73.34 122.00,73.36 123.00,72.79 124.00,72.69 125.00,72.38 126.00,72.40 127.00,72.11 128.00,71.90 129.00,71.74 130.00,71.57 131.00,71.14 132.00,71.03 133.00,70.76 134.00,70.41 135.00,70.48 136.00,70.17 137.00,70.05 138.00,69.59 139.00,69.51 140.00,69.27 141.00,69.16 142.00,68.69 143.00,68.58 144.00,68.42 145.00,68.04 146.00,68.02 147.00,67.98 148.00,67.74 149.00,67.71 150.00,67.58 151.00,67.31 152.00,67.25 153.00,67.39 154.00,67.01 155.00,66.93 156.00,66.68 157.00,66.62 158.00,66.48 159.00,66.67 160.00,66.48 161.00,66.42 162.00,66.35 163.00,66.08 164.00,66.10 165.00,65.82 166.00,65.66 167.00,65.76 168.00,65.62 169.00,65.53 170.00,65.22 171.00,65.22 172.00,65.00" fill="none" stroke="#7fd0d2" stroke-width="1.2" stroke-linejoin="round" stroke-linecap="round" />
<polyline points="38.80,130.96 40.40,135.90 41.70,129.02 43.00,121.92 44.25,115.02 45.50,107.57 46.50,102.09 47.50,96.89 48.50,93.07 49.50,89.51 50.50,87.56 51.50,85.32 52.75,84.85 54.00,83.91 55.00,83.77 56.00,83.54 57.00,83.50 58.00,83.30 59.00,82.76 60.00,82.34 61.50,77.92 63.30,73.26 64.40,82.33 65.50,78.86 66.40,77.91 67.50,80.38 68.75,80.24 70.00,79.99 71.00,79.78 72.00,79.42 73.00,79.16 74.00,79.06 75.00,78.95 76.00,78.81 77.00,78.63 78.00,78.37 79.00,78.38 80.00,77.97 81.00,77.86 82.00,77.84 83.00,77.62 84.00,77.23 85.00,77.03 86.00,77.07 87.00,76.56 88.00,76.42 89.00,76.40 90.00,76.21 91.00,75.83 92.00,75.55 93.00,75.37 94.00,75.36 95.00,75.00 96.00,74.97 97.00,74.66 98.00,74.50 99.00,73.89 100.00,73.71 101.00,73.41 102.00,73.37 103.00,73.13 104.00,72.81 105.00,72.80 106.00,72.42 107.00,72.30 108.00,72.07 109.00,72.09 110.00,71.73 111.00,71.46 112.00,71.17 113.00,71.12 114.00,70.99 115.00,70.81 116.00,70.70 117.00,70.45 118.00,70.03 119.00,69.78 120.00,69.82 121.00,69.63 122.00,69.31 123.00,69.24 124.00,68.92 125.00,68.65 126.00,68.45 127.00,68.23 128.00,68.33 129.00,68.27 130.00,68.12 131.00,67.78 132.00,67.70 133.00,67.65 134.00,67.45 135.00,67.21 136.00,66.97 137.00,66.86 138.00,66.56 139.00,66.41 140.00,66.45 141.00,66.42 142.00,66.08 143.00,65.87 144.00,65.69 145.00,65.57 146.00,65.55 147.00,65.25 148.00,65.30 149.00,64.82 150.00,64.73 151.00,64.67 152.00,64.48 153.00,64.52 154.00,64.37 155.00,64.27 156.00,64.00 157.00,63.63 158.00,63.70 159.00,63.55 160.00,63.39 161.00,63.16 162.00,63.19 163.00,63.13 164.00,62.67 165.00,62.75 166.00,62.49 167.00,62.41 168.00,62.42 169.00,62.31 170.00,62.04 171.00,61.72 172.00,61.70" fill="none" stroke="#12c3f3" stroke-width="1.45" stroke-linejoin="round" stroke-linecap="round" />
<polyline points="38.80,150.17 38.80,135.87 40.40,135.65 41.40,128.23 42.40,120.43 43.55,114.01 44.70,107.88 45.80,102.43 46.90,96.73 48.00,93.11 49.10,89.41 50.20,87.52 51.30,85.73 52.40,84.19 53.60,83.27 54.80,82.76 56.00,82.18 57.50,81.33 58.50,79.31 59.50,81.30 60.75,81.14 62.00,80.85 63.00,80.83 64.00,80.40 65.00,80.41 66.00,80.58 67.00,80.13 68.00,80.11 69.00,79.99 70.00,79.71 71.00,79.62 72.00,79.22 73.00,79.09 74.00,79.18 75.00,78.66 76.00,78.76 77.00,78.29 78.00,78.43 79.00,78.11 80.00,77.92 81.00,77.53 82.00,77.31 83.00,77.40 84.00,76.98 85.00,76.80 86.00,76.87 87.00,76.71 88.00,76.19 89.00,76.37 90.00,76.01 91.00,75.72 92.00,75.37 93.00,75.25 94.00,75.25 95.00,74.73 96.00,74.43 97.00,74.20 98.00,73.96 99.00,73.81 100.00,73.80 101.00,73.23 102.00,73.01 103.00,73.05 104.00,72.81 105.00,72.54 106.00,71.98 107.00,71.76 108.00,71.73 109.00,71.28 110.00,71.11 111.00,70.69 112.00,70.31 113.00,70.18 114.00,70.08 115.00,69.84 116.00,69.49 117.00,69.19 118.00,68.97 119.00,68.67 120.00,68.45 121.00,68.31 122.00,67.80 123.00,67.70 124.00,67.57 125.00,66.74 126.00,65.67 127.00,65.19 128.00,64.57 129.00,63.73 130.00,63.21 131.05,62.98 132.10,62.72 133.30,63.44 134.50,63.56 135.90,64.60 137.30,65.15 138.65,65.36 140.00,65.95 141.00,65.96 142.00,66.08 143.00,65.99 144.00,65.97 145.00,66.11 146.00,65.88 147.00,66.10 148.00,66.10 149.00,66.02 150.00,66.24 151.00,66.17 152.00,66.28 153.00,66.27 154.00,66.29 155.00,66.34 156.00,66.48 157.00,66.67 158.00,66.69 159.00,66.70 160.00,66.73 161.00,66.53 162.00,66.82 163.00,66.56 164.00,66.52 165.00,66.68 166.00,66.79 167.00,66.65 168.00,66.79 169.00,66.66 170.00,66.95 171.00,66.76 172.00,66.80" fill="none" stroke="#b29de3" stroke-width="1.25" stroke-linejoin="round" stroke-linecap="round" />
<polyline points="208.00,126.99 209.05,131.56 210.10,136.21 211.11,136.25 212.11,136.11 213.12,136.08 214.12,136.14 215.13,135.97 216.14,136.08 217.14,136.21 218.15,136.19 219.16,135.97 220.16,136.21 221.17,136.07 222.17,136.25 223.18,136.07 224.19,136.03 225.19,136.13 226.20,136.23 227.20,136.09 228.21,136.22 229.22,136.18 230.22,136.07 231.23,136.06 232.24,136.12 233.24,136.09 234.25,136.08 235.25,136.16 236.26,136.23 237.27,136.15 238.27,136.02 239.28,136.04 240.28,136.08 241.29,136.16 242.30,136.02 243.30,136.00 244.31,136.07 245.32,136.06 246.32,135.99 247.33,136.14 248.33,136.26 249.34,136.14 250.35,136.20 251.35,136.23 252.36,136.23 253.36,136.26 254.37,136.12 255.38,136.19 256.38,136.02 257.39,136.25 258.40,136.10 259.40,136.13 260.41,136.26 261.41,136.08 262.42,136.05 263.43,136.24 264.43,136.17 265.44,136.02 266.44,136.00 267.45,136.10 268.46,136.00 269.46,136.25 270.47,136.05 271.48,136.08 272.48,136.11 273.49,136.15 274.49,136.13 275.50,136.19 276.51,136.20 277.51,136.13 278.52,136.03 279.52,136.30 280.53,136.21 281.54,136.03 282.54,136.14 283.55,136.23 284.56,136.30 285.56,136.03 286.57,136.01 287.57,136.15 288.58,136.14 289.59,136.28 290.59,136.26 291.60,136.11 292.60,136.14 293.61,136.19 294.62,136.28 295.62,136.08 296.63,136.13 297.64,136.04 298.64,136.21 299.65,136.03 300.65,136.30 301.66,136.18 302.67,136.19 303.67,136.05 304.68,136.09 305.68,136.16 306.69,136.28 307.70,136.19 308.70,136.11 309.71,136.32 310.72,136.23 311.72,136.19 312.73,136.09 313.73,136.12 314.74,136.30 315.75,136.07 316.75,136.19 317.76,136.22 318.76,136.14 319.77,136.26 320.78,136.31 321.78,136.29 322.79,136.26 323.80,136.10 324.80,136.06 325.81,136.17 326.81,136.13 327.82,136.10 328.83,136.30 329.83,136.11 330.84,136.29 331.84,136.32 332.85,136.08 333.86,136.32 334.86,136.16 335.87,136.11 336.88,136.10 337.88,136.06 338.89,136.20 339.89,136.16 340.90,136.20" fill="none" stroke="#41a2a6" stroke-width="1.2" stroke-linejoin="round" stroke-linecap="round" />
<polyline points="210.10,136.21 211.12,136.20 212.14,135.97 213.16,136.08 214.17,136.07 215.19,136.01 216.21,136.04 217.23,136.04 218.25,136.17 219.27,136.07 220.28,136.00 221.30,136.04 222.32,136.11 223.34,136.15 224.36,136.05 225.38,136.19 226.39,136.05 227.41,136.19 228.43,136.17 229.45,136.04 230.47,136.22 231.49,136.11 232.50,136.16 233.52,136.18 234.54,136.19 235.56,136.13 236.58,136.02 237.60,136.24 238.61,136.27 239.63,136.16 240.65,136.18 241.67,136.09 242.69,136.28 243.71,136.22 244.72,136.09 245.74,136.27 246.76,136.32 247.78,136.13 248.80,136.33 249.82,136.17 250.83,136.09 251.85,136.25 252.87,136.14 253.89,136.26 254.91,136.21 255.93,136.07 256.94,136.20 257.96,136.30 258.98,136.19 260.00,136.21 261.01,136.31 262.02,136.18 263.03,136.20 264.05,136.22 265.06,136.30 266.07,136.11 267.08,136.08 268.09,136.28 269.10,136.22 270.11,136.14 271.12,136.32 272.13,136.32 273.15,136.21 274.16,136.35 275.17,136.30 276.18,136.27 277.19,136.14 278.20,136.05 279.21,136.25 280.23,136.27 281.24,136.16 282.25,136.19 283.26,136.22 284.27,136.12 285.28,136.26 286.29,136.22 287.30,136.17 288.31,136.08 289.33,136.22 290.34,136.15 291.35,136.27 292.36,136.10 293.37,136.17 294.38,136.11 295.39,136.17 296.40,136.22 297.42,136.08 298.43,136.07 299.44,136.19 300.45,136.11 301.46,136.20 302.47,136.10 303.48,136.08 304.50,136.21 305.51,136.33 306.52,136.31 307.53,136.20 308.54,136.17 309.55,136.07 310.56,136.13 311.57,136.14 312.58,136.33 313.60,136.09 314.61,136.33 315.62,136.19 316.63,136.18 317.64,136.13 318.65,136.34 319.66,136.11 320.67,136.22 321.69,136.20 322.70,136.11 323.71,136.12 324.72,136.35 325.73,136.29 326.74,136.27 327.75,136.32 328.76,136.08 329.78,136.26 330.79,136.28 331.80,136.12 332.81,136.19 333.82,136.34 334.83,136.15 335.84,136.28 336.85,136.10 337.87,136.25 338.88,136.13 339.89,136.20 340.90,136.20" fill="none" stroke="#3574ea" stroke-width="1.7" stroke-linejoin="round" stroke-linecap="round" />
<polyline points="210.10,136.04 211.28,136.13 212.46,135.90 213.64,135.62 214.82,135.55 216.00,135.26 217.08,135.15 218.17,134.58 219.25,134.42 220.33,134.14 221.42,133.74 222.50,133.27 223.60,133.03 224.70,132.97 225.80,132.46 226.90,132.43 228.00,132.00 229.02,131.99 230.03,131.71 231.05,131.41 232.07,131.00 233.08,130.61 234.10,130.63 235.28,130.46 236.46,130.29 237.64,129.67 238.82,129.39 240.00,129.54 241.16,129.24 242.32,128.93 243.48,128.88 244.64,128.40 245.80,128.42 246.83,128.44 247.86,128.37 248.89,128.10 249.91,128.05 250.94,128.25 251.97,128.34 253.00,127.92 254.00,127.89 255.00,127.96 256.00,128.34 257.00,128.17 258.00,128.24 259.00,128.54 260.00,128.38 261.00,128.24 262.00,128.49 263.00,128.17 264.00,128.34 265.00,128.58 266.00,128.35 267.00,128.31 268.00,128.59 269.00,128.52 270.00,128.88 271.00,128.47 272.00,128.86 273.00,128.68 274.00,128.92 275.00,128.77 276.00,128.89 277.00,128.72 278.00,128.67 279.00,128.78 280.00,128.96 281.00,128.73 282.00,128.68 283.00,128.77 284.00,128.61 285.00,128.72 286.00,128.85 287.00,128.84 288.00,128.87 289.00,128.72 290.00,128.59 291.00,128.59 292.00,128.75 293.00,128.68 294.00,128.86 295.00,128.71 296.00,128.96 297.00,128.88 298.00,128.92 299.00,128.95 300.00,128.85 301.00,128.80 302.00,128.75 303.00,128.62 304.00,128.99 305.00,128.85 306.00,128.65 307.00,129.06 308.00,128.89 309.00,128.91 310.00,128.82 311.00,128.67 312.00,129.11 313.00,128.69 314.00,128.79 315.00,129.11 316.00,128.67 317.00,128.86 318.00,128.85 319.00,128.74 320.00,129.08 321.00,128.83 322.00,128.63 323.00,128.86 324.00,128.63 325.00,128.98 326.00,129.06 327.00,129.08 328.00,128.65 329.00,128.97 330.00,128.79 331.00,128.87 332.00,128.79 333.00,128.79 334.00,128.71 335.00,128.95 336.00,128.69 337.00,129.13 338.00,128.67 339.00,129.13 340.00,128.74 341.00,128.90" fill="none" stroke="#45357e" stroke-width="1.25" stroke-linejoin="round" stroke-linecap="round" />
<polyline points="210.10,135.93 211.12,134.80 212.14,133.31 213.16,132.01 214.18,130.50 215.20,129.15 216.30,127.31 217.40,125.92 218.50,124.23 219.60,122.78 220.80,121.17 222.00,119.96 223.20,118.97 224.28,118.54 225.37,117.80 226.45,117.38 227.53,116.79 228.62,116.19 229.70,115.69 230.74,115.58 231.79,115.20 232.83,115.15 233.87,115.17 234.91,114.82 235.96,114.75 237.00,114.50 238.00,114.54 239.00,114.64 240.00,114.67 241.00,114.75 242.00,114.55 243.00,114.43 244.00,114.48 245.00,114.36 246.00,114.42 247.00,114.55 248.00,114.56 249.00,114.40 250.00,114.37 251.00,114.33 252.00,114.35 253.00,114.47 254.00,114.37 255.00,114.61 256.00,114.48 257.00,114.38 258.00,114.41 259.00,114.24 260.00,114.51 261.00,114.51 262.00,114.35 263.00,114.48 264.00,114.30 265.00,114.27 266.00,114.26 267.00,114.24 268.00,114.40 269.00,114.40 270.00,114.43 271.00,114.17 272.00,114.43 273.00,114.31 274.00,114.26 275.00,114.30 276.05,114.29 277.09,114.21 278.14,114.31 279.19,114.42 280.24,114.47 281.28,114.56 282.33,114.29 283.38,114.58 284.43,114.56 285.47,114.54 286.52,114.67 287.57,114.34 288.62,114.62 289.66,114.68 290.71,114.39 291.76,114.59 292.81,114.75 293.85,114.50 294.90,114.74 295.90,114.80 296.90,114.65 297.91,114.57 298.91,114.63 299.91,114.92 300.91,114.79 301.92,114.78 302.92,114.87 303.92,115.10 304.92,114.87 305.92,114.81 306.93,115.22 307.93,115.01 308.93,115.07 309.93,115.34 310.93,115.10 311.94,115.06 312.94,115.42 313.94,115.20 314.94,115.23 315.95,115.55 316.95,115.30 317.95,115.61 318.95,115.42 319.95,115.45 320.96,115.45 321.96,115.61 322.96,115.66 323.96,115.63 324.97,115.71 325.97,115.66 326.97,115.92 327.97,115.99 328.97,115.96 329.98,116.02 330.98,115.76 331.98,115.87 332.98,115.89 333.98,115.90 334.99,116.27 335.99,116.28 336.99,116.32 337.99,116.21 339.00,116.07 340.00,116.23 341.00,116.30" fill="none" stroke="#f39090" stroke-width="1.2" stroke-linejoin="round" stroke-linecap="round" />
<polyline points="210.10,135.79 211.40,132.35 212.70,127.87 214.00,123.85 215.00,119.65 216.00,114.46 217.00,110.30 218.00,105.87 219.00,102.12 220.00,97.72 221.00,94.28 222.10,91.23 223.20,88.49 224.60,87.41 226.00,86.07 227.05,85.25 228.10,84.59 229.15,84.33 230.20,83.37 231.36,83.88 232.52,83.43 233.68,83.23 234.84,83.26 236.00,83.03 237.13,83.12 238.27,83.23 239.40,83.08 240.53,82.98 241.67,82.90 242.80,82.99 243.84,82.90 244.88,82.36 245.92,82.29 246.96,81.79 248.00,81.23 249.00,81.00 250.00,81.21 251.00,80.69 252.00,80.35 253.00,80.18 254.00,80.14 255.05,79.99 256.10,80.15 257.15,80.33 258.20,80.26 259.20,80.27 260.20,79.87 261.20,79.53 262.20,79.14 263.20,78.80 264.20,78.61 265.20,77.88 266.29,78.13 267.38,77.21 268.47,77.42 269.56,76.63 270.64,76.75 271.73,76.07 272.82,75.63 273.91,75.64 275.00,75.54 276.00,75.40 277.00,75.27 278.00,75.20 279.00,74.40 280.00,74.48 281.00,74.15 282.00,74.46 283.00,74.10 284.00,74.16 285.00,74.05 286.00,74.04 287.00,73.67 288.00,73.66 289.00,73.29 290.00,72.81 291.00,73.24 292.00,72.53 293.00,72.38 294.00,72.75 295.00,72.22 296.00,72.34 297.00,71.75 298.00,71.74 299.00,71.94 300.00,71.32 301.00,71.51 302.01,71.65 303.02,70.99 304.02,71.18 305.03,71.05 306.04,70.80 307.05,70.75 308.06,70.55 309.06,69.91 310.07,69.88 311.08,69.97 312.09,70.11 313.10,69.43 314.10,69.53 315.11,69.06 316.12,69.40 317.13,68.97 318.14,68.86 319.14,68.81 320.15,68.28 321.16,68.54 322.17,68.43 323.18,68.32 324.18,67.76 325.19,67.57 326.20,67.37 327.25,67.80 328.30,67.40 329.35,67.29 330.40,67.30 331.45,67.35 332.50,67.00 333.55,66.94 334.60,67.16 335.65,67.09 336.70,66.67 337.75,66.44 338.80,66.96 339.85,66.74 340.90,66.50" fill="none" stroke="#fab393" stroke-width="1.2" stroke-linejoin="round" stroke-linecap="round" />
<polyline points="210.10,136.14 211.55,127.01 213.00,118.18 214.00,112.64 215.00,107.22 216.00,101.84 217.00,98.94 218.00,96.04 219.00,92.95 220.00,91.35 221.00,89.39 222.00,87.48 223.00,86.61 224.00,85.64 225.00,84.70 226.00,83.70 227.00,83.26 228.00,82.80 229.00,82.48 230.00,81.78 231.00,81.56 232.00,80.92 233.10,80.66 234.20,79.86 235.30,79.54 236.40,79.04 237.50,78.67 238.60,77.98 239.62,77.87 240.65,77.69 241.67,77.73 242.70,77.61 243.72,77.24 244.75,77.18 245.78,77.06 246.80,77.23 247.82,76.90 248.85,76.81 249.88,76.57 250.90,76.59 251.93,76.52 252.95,76.33 253.97,75.93 255.00,75.98 256.00,75.82 257.00,75.47 258.00,75.59 259.00,75.23 260.00,75.04 261.00,75.00 262.00,74.81 263.00,74.60 264.00,74.57 265.00,74.26 266.00,74.01 267.00,73.73 268.00,73.75 269.00,73.50 270.00,73.39 271.00,73.14 272.00,72.83 273.00,72.67 274.00,72.54 275.00,72.34 276.00,72.50 277.00,72.25 278.00,71.98 279.00,72.02 280.00,71.85 281.00,71.48 282.00,71.62 283.00,71.27 284.00,71.44 285.00,70.96 286.00,70.87 287.00,70.72 288.00,70.82 289.00,70.67 290.00,70.43 291.00,70.12 292.00,70.09 293.00,70.06 294.00,69.66 295.00,69.87 296.00,69.70 297.00,69.59 298.00,69.36 299.00,69.19 300.00,69.19 301.02,68.82 302.05,68.75 303.07,68.59 304.09,68.52 305.11,68.68 306.13,68.31 307.16,68.49 308.18,68.26 309.20,68.36 310.23,68.23 311.25,68.11 312.27,68.09 313.29,67.68 314.31,67.68 315.34,67.63 316.36,67.57 317.38,67.58 318.40,67.58 319.43,67.43 320.45,67.42 321.47,67.24 322.50,67.02 323.52,66.99 324.54,67.00 325.56,66.94 326.58,66.67 327.61,66.58 328.63,66.60 329.65,66.35 330.67,66.53 331.70,66.09 332.72,66.26 333.74,66.11 334.76,65.90 335.79,65.97 336.81,65.84 337.83,65.95 338.85,65.83 339.88,65.62 340.90,65.50" fill="none" stroke="#7fd0d2" stroke-width="1.2" stroke-linejoin="round" stroke-linecap="round" />
<polyline points="207.80,127.15 208.95,131.70 210.10,135.97 211.55,125.68 213.00,115.13 214.00,109.86 215.00,104.44 216.00,98.96 217.00,96.22 218.00,93.73 219.00,90.88 220.25,88.35 221.50,85.53 222.53,84.56 223.57,83.31 224.60,82.22 225.68,81.96 226.76,81.37 227.84,80.75 228.92,80.32 230.00,79.77 231.00,79.61 232.00,79.31 233.00,78.96 234.00,78.99 235.00,78.70 236.00,78.40 237.17,77.61 238.33,76.98 239.50,76.59 241.40,75.43 243.00,77.56 244.00,77.22 245.00,77.25 246.00,77.01 247.00,76.78 248.00,76.70 249.00,76.48 250.00,76.39 251.00,76.27 252.00,76.19 253.00,75.68 254.00,75.70 255.00,75.68 256.00,75.41 257.00,75.23 258.00,75.19 259.00,74.71 260.00,74.87 261.00,74.65 262.00,74.48 263.00,74.22 264.00,74.20 265.00,73.85 266.00,73.86 267.00,73.60 268.00,73.72 269.00,73.52 270.00,73.24 271.00,73.20 272.00,72.90 273.00,72.81 274.00,72.51 275.00,72.64 276.00,72.42 277.00,72.23 278.00,71.77 279.00,71.87 280.00,71.36 281.00,71.40 282.00,71.18 283.00,70.82 284.00,70.77 285.00,70.77 286.00,70.48 287.00,70.16 288.00,70.18 289.00,69.80 290.00,69.83 291.00,69.44 292.00,69.13 293.00,69.30 294.00,68.75 295.00,68.63 296.00,68.65 297.00,68.20 298.00,68.18 299.00,68.12 300.00,67.82 301.00,67.54 302.02,67.62 303.05,67.57 304.07,67.39 305.09,67.33 306.12,67.13 307.14,67.09 308.16,67.24 309.18,67.15 310.21,66.69 311.23,66.68 312.25,66.62 313.28,66.76 314.30,66.45 315.32,66.35 316.35,66.51 317.37,66.20 318.39,66.44 319.42,66.15 320.44,66.25 321.46,66.14 322.48,65.81 323.51,65.97 324.53,65.74 325.55,65.58 326.58,65.43 327.60,65.61 328.62,65.48 329.65,65.30 330.67,65.43 331.69,65.09 332.72,65.11 333.74,64.89 334.76,64.92 335.78,65.05 336.81,64.82 337.83,64.60 338.85,64.55 339.88,64.64 340.90,64.50" fill="none" stroke="#12c3f3" stroke-width="1.45" stroke-linejoin="round" stroke-linecap="round" />
<polyline points="207.80,149.91 207.80,136.25 208.95,135.92 210.10,136.25 211.55,126.10 213.00,116.13 214.00,110.28 215.00,104.49 216.00,98.87 217.00,96.75 218.00,94.21 219.00,91.94 220.25,88.66 221.50,85.15 222.70,82.39 223.90,79.63 224.95,80.57 226.00,81.75 227.05,78.73 228.10,75.72 229.15,78.27 230.20,80.71 231.60,78.99 233.00,77.30 234.00,78.02 235.00,78.52 236.00,79.49 237.08,79.23 238.16,79.20 239.24,79.16 240.32,78.79 241.40,78.95 242.45,78.77 243.49,78.28 244.54,78.00 245.58,78.06 246.63,77.88 247.68,77.63 248.72,77.26 249.77,77.12 250.82,76.71 251.86,76.54 252.91,76.40 253.95,76.31 255.00,75.84 256.00,75.94 257.00,75.35 258.00,75.49 259.00,74.96 260.00,74.96 261.00,74.73 262.00,74.55 263.00,74.12 264.00,73.98 265.00,73.58 266.00,73.57 267.00,73.04 268.00,73.12 269.00,72.77 270.00,72.32 271.00,72.44 272.00,71.96 273.00,71.63 274.03,71.43 275.07,71.06 276.10,70.89 277.14,70.79 278.17,70.63 279.21,70.21 280.24,70.02 281.28,69.74 282.31,69.42 283.35,69.01 284.38,68.69 285.42,68.38 286.45,68.26 287.49,67.85 288.52,67.79 289.56,67.35 290.59,67.18 291.63,66.89 292.66,66.65 293.70,66.18 294.73,65.95 295.77,65.85 296.80,65.39 297.82,65.46 298.84,65.47 299.85,65.13 300.87,65.25 301.89,65.00 302.91,65.02 303.93,64.75 304.95,64.73 305.96,64.59 306.98,64.29 308.00,64.31 309.02,64.22 310.04,64.07 311.05,64.04 312.07,64.03 313.09,63.87 314.11,63.77 315.13,63.39 316.15,63.51 317.16,63.37 318.18,63.38 319.20,62.90 320.23,62.95 321.27,63.25 322.30,62.99 323.33,63.11 324.37,63.04 325.40,62.94 326.43,62.94 327.47,62.97 328.50,63.12 329.53,62.92 330.57,63.01 331.60,62.79 332.63,62.94 333.67,62.88 334.70,62.91 335.73,62.95 336.77,62.61 337.80,62.94 338.83,62.78 339.87,62.62 340.90,62.70" fill="none" stroke="#b29de3" stroke-width="1.25" stroke-linejoin="round" stroke-linecap="round" />
<polyline points="378.60,137.09 379.61,137.01 380.62,137.07 381.63,137.28 382.64,137.27 383.65,137.34 384.66,137.16 385.67,137.17 386.68,137.28 387.69,137.34 388.70,137.43 389.71,137.33 390.72,137.49 391.73,137.47 392.74,137.41 393.75,137.59 394.76,137.40 395.77,137.58 396.78,137.49 397.79,137.47 398.80,137.63 399.80,137.67 400.81,137.72 401.82,137.68 402.83,137.87 403.84,137.86 404.85,137.69 405.86,137.68 406.87,137.99 407.88,137.85 408.89,137.79 409.90,137.84 410.91,138.02 411.92,137.89 412.93,137.97 413.94,138.09 414.95,138.02 415.96,138.14 416.97,138.25 417.98,138.23 418.99,138.21 420.00,138.24 421.01,138.15 422.01,138.25 423.02,138.26 424.02,138.24 425.03,138.22 426.03,138.30 427.04,138.14 428.04,138.30 429.05,138.38 430.05,138.10 431.06,138.17 432.07,138.40 433.07,138.13 434.08,138.36 435.08,138.29 436.09,138.14 437.09,138.31 438.10,138.13 439.10,138.39 440.11,138.23 441.12,138.42 442.12,138.42 443.13,138.19 444.13,138.28 445.14,138.21 446.14,138.39 447.15,138.20 448.15,138.20 449.16,138.21 450.16,138.44 451.17,138.26 452.18,138.29 453.18,138.33 454.19,138.36 455.19,138.33 456.20,138.49 457.20,138.31 458.21,138.36 459.21,138.48 460.22,138.30 461.23,138.28 462.23,138.49 463.24,138.33 464.24,138.51 465.25,138.49 466.25,138.36 467.26,138.36 468.26,138.29 469.27,138.53 470.27,138.40 471.28,138.38 472.29,138.33 473.29,138.35 474.30,138.55 475.30,138.33 476.31,138.46 477.31,138.49 478.32,138.46 479.32,138.46 480.33,138.43 481.34,138.38 482.34,138.57 483.35,138.60 484.35,138.50 485.36,138.41 486.36,138.61 487.37,138.41 488.37,138.40 489.38,138.54 490.38,138.61 491.39,138.53 492.40,138.40 493.40,138.66 494.41,138.42 495.41,138.48 496.42,138.68 497.42,138.63 498.43,138.62 499.43,138.42 500.44,138.66 501.45,138.53 502.45,138.41 503.46,138.65 504.46,138.70 505.47,138.44 506.47,138.56 507.48,138.70 508.48,138.54 509.49,138.53 510.49,138.68 511.50,138.60" fill="none" stroke="#41a2a6" stroke-width="1.2" stroke-linejoin="round" stroke-linecap="round" />
<polyline points="378.60,137.08 379.61,137.26 380.62,137.23 381.63,137.24 382.64,137.21 383.65,137.07 384.66,137.23 385.67,137.21 386.68,137.19 387.69,137.23 388.70,137.16 389.71,137.14 390.72,137.37 391.73,137.22 392.74,137.15 393.75,137.43 394.76,137.30 395.77,137.36 396.78,137.27 397.79,137.23 398.80,137.29 399.80,137.46 400.81,137.30 401.82,137.50 402.83,137.33 403.84,137.52 404.85,137.32 405.86,137.41 406.87,137.33 407.88,137.35 408.89,137.47 409.90,137.44 410.91,137.50 411.92,137.42 412.93,137.46 413.94,137.47 414.95,137.66 415.96,137.43 416.97,137.54 417.98,137.68 418.99,137.61 420.00,137.53 421.01,137.76 422.01,137.50 423.02,137.51 424.02,137.48 425.03,137.61 426.03,137.75 427.04,137.58 428.04,137.59 429.05,137.75 430.05,137.54 431.06,137.53 432.07,137.73 433.07,137.56 434.08,137.70 435.08,137.59 436.09,137.74 437.09,137.82 438.10,137.70 439.10,137.66 440.11,137.77 441.12,137.80 442.12,137.61 443.13,137.67 444.13,137.72 445.14,137.77 446.14,137.70 447.15,137.83 448.15,137.71 449.16,137.91 450.16,137.75 451.17,137.72 452.18,137.68 453.18,137.71 454.19,137.74 455.19,137.95 456.20,137.81 457.20,137.83 458.21,137.99 459.21,138.00 460.22,137.94 461.23,137.79 462.23,137.83 463.24,137.89 464.24,137.82 465.25,137.85 466.25,137.82 467.26,137.83 468.26,137.99 469.27,137.95 470.27,137.91 471.28,137.93 472.29,137.98 473.29,138.00 474.30,137.81 475.30,138.07 476.31,137.96 477.31,137.93 478.32,138.12 479.32,138.07 480.33,137.95 481.34,137.86 482.34,137.99 483.35,138.00 484.35,137.98 485.36,137.91 486.36,138.06 487.37,137.97 488.37,138.13 489.38,138.06 490.38,138.00 491.39,138.17 492.40,138.06 493.40,137.96 494.41,138.02 495.41,137.96 496.42,138.08 497.42,138.23 498.43,138.25 499.43,138.17 500.44,138.02 501.45,138.06 502.45,138.05 503.46,138.11 504.46,138.20 505.47,138.02 506.47,138.16 507.48,138.15 508.48,138.23 509.49,138.28 510.49,138.16 511.50,138.20" fill="none" stroke="#3574ea" stroke-width="1.7" stroke-linejoin="round" stroke-linecap="round" />
<polyline points="378.40,137.17 379.57,136.19 380.75,135.57 381.93,134.94 383.10,133.79 384.28,133.08 385.45,132.05 386.62,130.80 387.80,129.82 388.97,128.86 390.13,127.16 391.30,125.68 392.47,124.18 393.63,122.78 394.80,121.13 396.00,119.73 397.20,118.34 398.40,116.90 399.57,115.90 400.73,114.77 401.90,113.21 403.07,113.06 404.25,112.37 405.43,112.34 406.60,111.81 407.78,111.02 408.95,111.19 410.12,110.72 411.30,110.33 412.31,110.69 413.33,110.54 414.34,110.29 415.36,110.01 416.37,110.08 417.39,109.61 418.40,109.52 419.49,109.48 420.57,109.59 421.66,109.56 422.74,109.15 423.83,109.05 424.91,109.26 426.00,109.26 427.00,109.13 428.00,109.53 429.00,109.55 430.00,109.48 431.00,109.41 432.00,109.56 433.00,109.24 434.00,109.71 435.00,109.27 436.00,109.85 437.00,109.69 438.00,109.49 439.00,109.46 440.00,109.79 441.00,109.73 442.00,109.93 443.00,109.54 444.00,110.13 445.00,109.85 446.02,109.83 447.04,110.02 448.06,109.90 449.08,109.77 450.11,109.64 451.13,109.73 452.15,109.41 453.17,109.54 454.19,109.91 455.21,109.40 456.23,109.35 457.25,109.86 458.27,109.50 459.29,109.59 460.32,109.61 461.34,109.67 462.36,109.37 463.38,109.66 464.40,109.10 465.42,109.67 466.44,109.27 467.46,109.47 468.48,109.22 469.51,109.51 470.53,109.22 471.55,109.36 472.57,109.14 473.59,109.47 474.61,109.41 475.63,108.98 476.65,109.35 477.67,109.45 478.69,108.93 479.72,108.88 480.74,109.37 481.76,109.37 482.78,108.76 483.80,109.19 484.83,109.33 485.85,108.90 486.88,109.30 487.90,108.99 488.93,109.37 489.96,109.21 490.98,109.21 492.01,109.00 493.03,109.41 494.06,109.47 495.09,109.22 496.11,109.08 497.14,109.15 498.16,109.30 499.19,109.85 500.21,109.70 501.24,109.84 502.27,109.77 503.29,109.38 504.32,109.59 505.34,110.01 506.37,109.98 507.40,110.11 508.42,110.02 509.45,109.98 510.47,110.05 511.50,109.90" fill="none" stroke="#45357e" stroke-width="1.25" stroke-linejoin="round" stroke-linecap="round" />
<polyline points="378.60,137.47 379.70,134.01 380.80,130.63 381.90,127.86 383.00,124.56 384.17,120.80 385.33,117.08 386.50,112.80 387.80,109.44 389.10,105.97 390.40,102.87 391.45,100.51 392.50,98.08 393.55,96.50 394.60,93.81 395.83,93.45 397.05,92.77 398.27,93.01 399.50,92.22 400.73,92.59 401.95,93.08 403.17,92.70 404.40,93.86 405.45,93.27 406.50,93.45 407.55,93.16 408.60,93.39 409.65,92.91 410.70,92.80 411.75,92.69 412.80,93.04 413.85,92.71 414.90,92.36 415.95,92.45 417.00,92.56 418.02,92.31 419.04,92.44 420.05,92.59 421.07,92.34 422.09,92.41 423.11,91.89 424.13,92.32 425.15,92.31 426.16,91.87 427.18,91.34 428.20,91.33 429.25,91.93 430.30,92.03 431.35,91.90 432.40,91.71 433.45,91.74 434.50,91.35 435.55,91.79 436.60,92.15 437.65,91.44 438.70,91.80 439.75,92.02 440.80,91.84 441.85,91.57 442.90,91.46 443.95,91.91 445.00,92.08 446.00,92.05 447.00,91.63 448.00,91.95 449.00,92.01 450.00,91.63 451.00,91.98 452.00,91.66 453.00,91.50 454.00,91.33 455.00,91.99 456.00,92.02 457.00,91.39 458.00,91.42 459.00,91.66 460.00,91.57 461.00,92.05 462.00,91.57 463.00,91.93 464.00,91.91 465.00,91.74 466.00,92.20 467.00,91.83 468.00,91.91 469.00,92.06 470.00,91.83 471.00,91.64 472.00,92.34 473.00,92.17 474.00,91.99 475.00,91.95 476.00,92.07 477.00,91.79 478.00,91.60 479.00,92.03 480.00,92.36 481.02,91.67 482.03,92.50 483.05,91.99 484.06,92.59 485.08,92.42 486.10,92.01 487.11,91.99 488.13,92.63 489.15,92.75 490.16,92.63 491.18,92.47 492.19,92.46 493.21,92.72 494.23,92.79 495.24,92.83 496.26,92.38 497.27,92.90 498.29,93.05 499.31,92.74 500.32,92.27 501.34,92.46 502.35,92.92 503.37,92.75 504.39,93.23 505.40,93.01 506.42,93.10 507.44,92.64 508.45,93.02 509.47,93.22 510.48,93.44 511.50,93.10" fill="none" stroke="#f39090" stroke-width="1.2" stroke-linejoin="round" stroke-linecap="round" />
<polyline points="378.60,137.34 380.05,128.41 381.50,120.00 382.67,114.39 383.83,107.95 385.00,102.04 386.40,97.56 387.80,93.34 389.50,90.70 390.50,90.27 391.50,89.70 392.62,89.01 393.75,87.87 394.88,87.59 396.00,86.98 397.00,86.74 398.00,86.65 399.00,86.43 400.00,86.13 401.00,86.09 402.00,85.71 403.00,85.26 404.00,85.19 405.00,85.39 406.00,84.84 407.00,84.74 408.00,84.80 409.00,84.50 410.00,84.37 411.00,84.14 412.00,84.12 413.00,83.82 414.00,83.85 415.00,83.78 416.00,83.97 417.00,83.92 418.00,83.60 419.00,83.90 420.00,83.53 421.00,83.66 422.00,83.40 423.00,83.63 424.00,83.39 425.00,83.82 426.00,83.43 427.00,83.67 428.00,83.39 429.00,83.28 430.00,83.55 431.00,83.16 432.00,83.27 433.00,83.30 434.00,83.47 435.00,83.25 436.00,82.82 437.00,83.02 438.00,83.27 439.00,83.17 440.00,82.84 441.00,82.65 442.00,82.69 443.00,82.94 444.00,82.55 445.00,82.94 446.00,82.57 447.00,82.83 448.00,82.84 449.00,82.58 450.00,82.75 451.00,82.82 452.00,82.61 453.00,82.78 454.00,82.84 455.00,83.05 456.00,82.65 457.00,82.59 458.00,82.80 459.00,82.86 460.00,82.80 461.00,83.07 462.00,82.65 463.00,82.84 464.00,82.83 465.00,82.67 466.00,82.83 467.00,82.84 468.00,82.80 469.00,83.04 470.00,83.18 471.00,83.18 472.00,82.73 473.00,82.83 474.00,83.19 475.00,82.67 476.00,82.69 477.00,82.68 478.00,83.22 479.00,82.96 480.00,82.92 481.00,82.73 482.00,83.21 483.00,83.28 484.00,83.11 485.00,83.25 486.05,82.87 487.10,82.54 488.15,82.28 489.20,82.18 490.21,82.15 491.23,82.35 492.24,82.22 493.25,82.28 494.27,82.86 495.28,82.89 496.30,82.93 497.31,82.72 498.32,82.84 499.34,82.96 500.35,83.17 501.36,82.95 502.38,83.13 503.39,83.22 504.40,83.46 505.42,83.23 506.43,83.08 507.45,83.39 508.46,83.74 509.47,83.38 510.49,83.71 511.50,83.70" fill="none" stroke="#fab393" stroke-width="1.2" stroke-linejoin="round" stroke-linecap="round" />
<polyline points="378.60,136.92 379.70,128.44 380.80,120.06 382.05,110.95 383.30,102.28 384.40,98.69 385.50,94.94 386.75,92.63 388.00,90.17 389.00,89.19 390.00,88.73 391.00,88.03 392.00,87.25 393.00,86.85 394.00,86.43 395.00,86.12 396.00,85.70 397.00,85.31 398.00,85.33 399.00,85.19 400.00,84.90 401.00,84.94 402.00,84.48 403.00,84.43 404.00,84.26 405.00,84.11 406.00,83.73 407.00,83.80 408.00,83.35 409.00,83.39 410.00,83.18 411.00,83.25 412.00,83.29 413.00,83.31 414.00,82.88 415.00,83.18 416.00,82.91 417.00,82.88 418.00,82.60 419.00,82.97 420.00,82.61 421.00,82.59 422.00,82.55 423.00,82.47 424.00,82.45 425.00,82.41 426.00,82.49 427.00,82.35 428.00,82.51 429.00,82.55 430.00,82.50 431.00,82.18 432.00,82.29 433.00,82.26 434.00,82.22 435.00,82.01 436.00,81.86 437.00,82.09 438.00,82.00 439.00,81.80 440.00,81.91 441.00,81.57 442.00,81.88 443.00,81.89 444.00,81.88 445.00,81.41 446.00,81.67 447.01,81.69 448.01,81.35 449.02,81.56 450.02,81.32 451.03,81.31 452.03,81.19 453.04,81.29 454.04,81.55 455.05,81.39 456.05,81.47 457.05,81.54 458.06,81.10 459.06,81.42 460.07,81.42 461.07,81.27 462.08,81.09 463.08,80.99 464.09,81.09 465.09,81.04 466.10,80.96 467.10,81.14 468.10,81.09 469.11,80.88 470.11,80.81 471.12,80.95 472.12,81.03 473.13,80.98 474.13,80.95 475.14,81.05 476.14,80.95 477.15,80.77 478.15,80.90 479.15,80.83 480.16,80.65 481.16,80.53 482.17,80.61 483.17,80.76 484.18,80.75 485.18,80.50 486.19,80.60 487.19,80.34 488.20,80.57 489.20,80.47 490.21,80.62 491.23,80.65 492.24,80.24 493.25,80.68 494.27,80.27 495.28,80.65 496.30,80.65 497.31,80.25 498.32,80.27 499.34,80.19 500.35,80.56 501.36,80.46 502.38,80.56 503.39,80.46 504.40,80.23 505.42,80.42 506.43,80.20 507.45,80.17 508.46,80.20 509.47,80.33 510.49,80.12 511.50,80.20" fill="none" stroke="#7fd0d2" stroke-width="1.3" stroke-linejoin="round" stroke-linecap="round" />
<polyline points="378.60,137.12 380.50,120.03 381.60,112.62 382.70,104.99 383.85,99.47 385.00,94.02 386.00,92.15 387.00,90.43 388.00,88.34 389.00,87.67 390.00,86.92 391.00,86.37 392.00,85.84 393.00,85.24 394.00,84.75 395.00,84.37 396.00,83.83 397.00,83.27 398.00,82.89 399.00,82.67 400.00,82.19 401.00,81.99 402.00,81.43 403.00,81.21 404.00,80.99 405.00,80.45 406.00,80.06 407.00,79.95 408.00,79.38 409.00,79.31 410.00,78.85 411.00,78.78 412.00,78.46 413.00,78.26 414.00,77.99 415.00,77.73 416.00,77.91 417.00,77.44 418.00,77.20 419.00,77.37 420.00,77.03 421.00,76.87 422.00,76.82 423.00,76.57 424.00,76.20 425.00,76.16 426.00,76.26 427.00,76.22 428.00,75.98 429.00,75.94 430.00,75.99 431.00,75.76 432.00,76.00 433.00,75.89 434.00,75.64 435.00,75.76 436.00,75.71 437.00,75.45 438.00,75.54 439.00,75.63 440.00,75.44 441.00,75.50 442.00,75.25 443.00,75.50 444.00,75.32 445.00,75.22 446.00,74.99 447.00,75.11 448.00,74.96 449.00,75.12 450.00,75.00 451.00,75.01 452.00,75.02 453.00,74.94 454.00,74.98 455.00,75.05 456.00,74.89 457.00,75.04 458.00,75.18 459.00,75.08 460.00,75.16 461.00,74.80 462.00,75.01 463.00,74.83 464.00,75.09 465.00,74.90 466.00,74.97 467.00,74.98 468.00,74.71 469.00,74.68 470.00,74.95 471.00,74.94 472.00,74.77 473.00,74.59 474.00,74.57 475.00,74.87 476.00,74.81 477.00,74.67 478.00,74.78 479.00,74.81 480.00,74.48 481.00,74.76 482.00,74.84 483.00,74.78 484.00,74.77 485.00,74.58 486.12,74.44 487.24,74.05 488.36,74.12 489.48,73.86 490.60,73.56 491.65,73.43 492.69,73.50 493.74,73.61 494.78,73.83 495.83,73.66 496.87,73.84 497.92,73.58 498.96,73.62 500.00,73.63 501.05,73.66 502.10,73.88 503.14,73.73 504.19,73.72 505.23,73.88 506.27,73.80 507.32,73.99 508.37,73.93 509.41,74.00 510.45,73.86 511.50,73.90" fill="none" stroke="#12c3f3" stroke-width="1.45" stroke-linejoin="round" stroke-linecap="round" />
<polyline points="378.00,149.97 378.00,137.09 378.60,137.25 380.50,118.13 381.60,111.02 382.70,104.00 383.87,99.67 385.03,95.71 386.20,91.43 387.25,90.25 388.30,89.05 389.35,88.02 390.40,86.96 391.52,86.33 392.64,85.83 393.76,85.40 394.88,84.90 396.00,84.25 397.00,83.82 398.00,83.46 399.00,83.11 400.00,82.56 401.00,82.00 402.00,81.62 403.00,81.16 404.00,80.88 405.00,80.27 406.00,80.04 407.00,79.39 408.00,78.90 409.00,78.41 410.00,78.10 411.00,77.75 412.00,77.48 413.00,77.10 414.00,76.71 415.00,76.22 416.00,76.13 417.00,75.57 418.00,75.22 419.00,74.85 420.00,74.63 421.00,74.30 422.00,73.84 423.00,73.48 424.00,73.05 425.00,73.01 426.00,72.82 427.00,72.42 428.00,72.24 429.00,72.17 430.00,71.94 431.00,71.54 432.00,71.58 433.00,71.28 434.00,71.05 435.00,70.71 436.00,70.69 437.00,70.31 438.00,70.15 439.00,70.03 440.00,69.76 441.00,69.34 442.00,69.11 443.00,68.91 444.00,68.79 445.00,68.92 446.00,68.71 447.00,68.59 448.00,68.46 449.00,68.40 450.00,68.28 451.00,68.27 452.00,68.07 453.00,68.11 454.00,68.00 455.00,67.91 456.00,67.77 457.00,67.50 458.00,67.48 459.00,67.50 460.00,67.26 461.00,67.22 462.00,67.01 463.00,67.10 464.00,66.85 465.03,66.81 466.06,66.89 467.09,66.62 468.13,66.54 469.16,66.61 470.19,66.57 471.22,66.42 472.25,66.45 473.28,66.51 474.32,66.49 475.35,66.45 476.38,66.36 477.41,66.09 478.44,66.12 479.47,66.09 480.51,65.92 481.54,66.09 482.57,65.89 483.60,65.98 484.63,65.90 485.65,65.72 486.68,65.69 487.71,65.67 488.73,65.54 489.76,65.43 490.79,65.50 491.81,65.39 492.84,65.35 493.87,65.45 494.89,65.39 495.92,65.23 496.95,65.06 497.97,65.23 499.00,65.03 500.04,65.05 501.08,65.31 502.12,65.42 503.17,65.29 504.21,65.45 505.25,65.62 506.29,65.57 507.33,65.59 508.38,65.60 509.42,65.62 510.46,65.95 511.50,65.90" fill="none" stroke="#b29de3" stroke-width="1.25" stroke-linejoin="round" stroke-linecap="round" />
<polyline points="546.60,137.19 547.61,137.02 548.62,137.17 549.62,137.05 550.63,137.23 551.64,137.13 552.65,137.24 553.65,137.20 554.66,137.08 555.67,137.24 556.68,137.28 557.68,137.11 558.69,137.12 559.70,137.20 560.71,137.35 561.71,137.44 562.72,137.30 563.73,137.43 564.74,137.40 565.74,137.28 566.75,137.35 567.76,137.48 568.77,137.39 569.77,137.41 570.78,137.48 571.79,137.32 572.80,137.43 573.80,137.46 574.81,137.49 575.82,137.54 576.83,137.43 577.83,137.50 578.84,137.51 579.85,137.42 580.86,137.64 581.86,137.70 582.87,137.59 583.88,137.56 584.89,137.56 585.89,137.60 586.90,137.59 587.91,137.57 588.92,137.79 589.92,137.63 590.93,137.60 591.94,137.74 592.95,137.56 593.95,137.68 594.96,137.75 595.97,137.84 596.98,137.70 597.98,137.64 598.99,137.93 600.00,137.65 601.01,137.78 602.01,137.82 603.02,137.97 604.03,137.78 605.03,137.75 606.04,137.77 607.04,137.81 608.05,137.74 609.06,137.98 610.06,137.87 611.07,137.94 612.08,137.81 613.08,137.93 614.09,138.01 615.09,137.81 616.10,138.04 617.11,137.84 618.11,137.98 619.12,138.05 620.13,137.92 621.13,138.06 622.14,137.91 623.15,137.93 624.15,138.08 625.16,137.99 626.16,137.83 627.17,137.87 628.18,137.99 629.18,137.94 630.19,137.86 631.20,138.09 632.20,137.95 633.21,138.13 634.22,137.98 635.22,137.93 636.23,138.00 637.23,138.13 638.24,138.16 639.25,138.07 640.25,137.98 641.26,138.07 642.27,137.99 643.27,138.03 644.28,137.93 645.28,137.94 646.29,138.22 647.30,138.18 648.30,138.03 649.31,138.14 650.32,137.98 651.32,138.22 652.33,138.16 653.34,138.20 654.34,138.12 655.35,138.13 656.35,138.25 657.36,138.11 658.37,138.04 659.37,138.06 660.38,138.30 661.39,138.12 662.39,138.06 663.40,138.22 664.41,138.09 665.41,138.19 666.42,138.30 667.42,138.14 668.43,138.21 669.44,138.37 670.44,138.35 671.45,138.36 672.46,138.12 673.46,138.40 674.47,138.29 675.47,138.17 676.48,138.43 677.49,138.17 678.49,138.44 679.50,138.30" fill="none" stroke="#41a2a6" stroke-width="1.2" stroke-linejoin="round" stroke-linecap="round" />
<polyline points="546.60,136.96 547.61,136.98 548.62,137.10 549.62,137.14 550.63,137.14 551.64,137.21 552.65,137.01 553.65,137.19 554.66,137.08 555.67,137.27 556.68,137.18 557.68,137.20 558.69,137.03 559.70,137.27 560.71,137.09 561.71,137.07 562.72,137.14 563.73,137.25 564.74,137.11 565.74,137.16 566.75,137.21 567.76,137.10 568.77,137.07 569.77,137.16 570.78,137.25 571.79,137.25 572.80,137.11 573.80,137.25 574.81,137.31 575.82,137.27 576.83,137.12 577.83,137.08 578.84,137.37 579.85,137.29 580.86,137.16 581.86,137.30 582.87,137.26 583.88,137.28 584.89,137.20 585.89,137.30 586.90,137.22 587.91,137.22 588.92,137.21 589.92,137.33 590.93,137.37 591.94,137.21 592.95,137.15 593.95,137.20 594.96,137.36 595.97,137.24 596.98,137.14 597.98,137.40 598.99,137.28 600.00,137.17 601.01,137.38 602.01,137.31 603.02,137.42 604.03,137.42 605.03,137.42 606.04,137.44 607.04,137.29 608.05,137.42 609.06,137.33 610.06,137.38 611.07,137.26 612.08,137.38 613.08,137.22 614.09,137.46 615.09,137.26 616.10,137.38 617.11,137.47 618.11,137.47 619.12,137.48 620.13,137.35 621.13,137.25 622.14,137.53 623.15,137.33 624.15,137.50 625.16,137.37 626.16,137.38 627.17,137.42 628.18,137.42 629.18,137.49 630.19,137.44 631.20,137.32 632.20,137.43 633.21,137.30 634.22,137.54 635.22,137.34 636.23,137.40 637.23,137.47 638.24,137.40 639.25,137.57 640.25,137.54 641.26,137.41 642.27,137.44 643.27,137.53 644.28,137.47 645.28,137.51 646.29,137.43 647.30,137.50 648.30,137.51 649.31,137.61 650.32,137.45 651.32,137.58 652.33,137.41 653.34,137.44 654.34,137.42 655.35,137.64 656.35,137.39 657.36,137.45 658.37,137.51 659.37,137.59 660.38,137.58 661.39,137.42 662.39,137.50 663.40,137.61 664.41,137.44 665.41,137.43 666.42,137.65 667.42,137.40 668.43,137.43 669.44,137.47 670.44,137.67 671.45,137.52 672.46,137.55 673.46,137.59 674.47,137.70 675.47,137.45 676.48,137.50 677.49,137.56 678.49,137.64 679.50,137.60" fill="none" stroke="#3574ea" stroke-width="1.7" stroke-linejoin="round" stroke-linecap="round" />
<polyline points="546.60,136.88 547.77,136.54 548.95,136.09 550.12,135.26 551.30,134.90 552.53,133.57 553.77,132.91 555.00,131.21 556.17,130.03 557.33,129.03 558.50,127.54 559.60,126.84 560.70,125.80 561.80,125.29 562.90,124.14 564.00,123.11 565.10,122.47 566.20,122.11 567.30,121.74 568.40,121.17 569.50,120.62 570.62,120.18 571.75,120.11 572.88,119.46 574.00,119.23 575.08,119.47 576.16,119.37 577.24,119.18 578.32,119.38 579.40,119.36 580.44,119.10 581.49,119.20 582.53,119.44 583.57,119.24 584.61,119.25 585.66,119.39 586.70,119.15 587.72,119.29 588.75,119.75 589.77,119.34 590.79,119.71 591.82,119.26 592.84,119.47 593.86,119.62 594.88,119.53 595.91,119.94 596.93,119.98 597.95,119.62 598.98,119.55 600.00,120.05 601.00,120.02 602.00,119.90 603.00,119.67 604.00,119.69 605.00,120.14 606.00,120.19 607.00,120.10 608.00,120.07 609.00,120.08 610.00,120.18 611.00,120.26 612.00,120.42 613.00,120.35 614.05,120.34 615.09,120.31 616.14,120.61 617.19,120.81 618.24,120.39 619.28,120.78 620.33,120.75 621.38,120.53 622.43,120.51 623.47,120.97 624.52,120.59 625.57,120.61 626.62,120.63 627.66,121.10 628.71,120.88 629.76,120.69 630.81,120.89 631.85,121.07 632.90,121.08 633.91,120.93 634.93,121.39 635.94,121.34 636.95,121.13 637.97,121.20 638.98,121.20 639.99,121.10 641.00,121.50 642.02,121.34 643.03,121.61 644.04,121.76 645.06,121.49 646.07,121.51 647.08,121.60 648.10,121.70 649.11,121.49 650.12,121.74 651.13,121.73 652.15,121.65 653.16,122.13 654.17,122.09 655.19,122.00 656.20,121.79 657.21,122.23 658.23,122.06 659.24,122.40 660.25,122.30 661.27,122.10 662.28,122.45 663.29,122.39 664.30,122.29 665.32,122.60 666.33,122.36 667.34,122.29 668.36,122.27 669.37,122.65 670.38,122.49 671.40,122.46 672.41,122.44 673.42,122.92 674.43,122.66 675.45,123.05 676.46,123.11 677.47,123.11 678.49,122.79 679.50,123.00" fill="none" stroke="#45357e" stroke-width="1.25" stroke-linejoin="round" stroke-linecap="round" />
<polyline points="546.60,137.28 548.05,133.35 549.50,129.64 550.75,126.41 552.00,122.93 553.45,119.85 554.90,116.96 556.20,114.32 557.50,111.84 558.95,110.12 560.40,108.62 561.52,107.85 562.65,107.43 563.77,106.38 564.90,105.86 565.98,105.56 567.05,105.09 568.12,104.76 569.20,104.26 570.22,104.10 571.24,103.89 572.26,103.59 573.28,103.24 574.30,102.91 575.32,102.71 576.34,102.34 577.36,102.10 578.38,101.96 579.40,101.68 580.44,101.62 581.49,101.46 582.53,101.79 583.57,101.49 584.61,101.51 585.66,101.43 586.70,101.47 587.74,101.53 588.79,101.55 589.83,101.38 590.87,101.48 591.91,101.22 592.96,101.22 594.00,101.14 595.00,101.39 596.00,101.05 597.00,101.09 598.00,101.31 599.00,101.10 600.00,101.03 601.00,101.15 602.00,101.19 603.00,101.18 604.00,101.09 605.00,101.14 606.00,101.11 607.00,101.07 608.00,101.20 609.00,101.09 610.00,101.08 611.00,101.37 612.00,101.35 613.00,101.15 614.01,101.26 615.02,101.14 616.04,101.16 617.05,101.41 618.06,101.63 619.07,101.33 620.08,101.53 621.09,101.72 622.11,101.45 623.12,101.73 624.13,101.65 625.14,101.90 626.15,101.98 627.16,102.05 628.18,102.06 629.19,101.83 630.20,102.11 631.21,102.12 632.22,102.07 633.24,102.08 634.25,102.24 635.26,102.27 636.27,102.31 637.28,102.58 638.29,102.34 639.31,102.64 640.32,102.41 641.33,102.68 642.34,102.63 643.35,102.66 644.36,102.74 645.38,102.65 646.39,102.74 647.40,102.86 648.45,102.91 649.50,103.30 650.55,103.38 651.60,103.49 652.65,103.64 653.70,103.57 654.75,103.64 655.80,103.80 656.85,104.25 657.90,104.23 658.95,104.56 660.00,104.43 661.03,104.56 662.05,104.78 663.08,104.97 664.11,104.91 665.13,105.05 666.16,105.11 667.18,105.17 668.21,105.55 669.24,105.66 670.26,105.58 671.29,105.57 672.32,105.97 673.34,105.92 674.37,106.15 675.39,106.12 676.42,106.10 677.45,106.48 678.47,106.33 679.50,106.60" fill="none" stroke="#f39090" stroke-width="1.2" stroke-linejoin="round" stroke-linecap="round" />
<polyline points="546.60,137.27 547.70,131.44 548.80,125.99 549.90,120.33 551.00,114.89 552.25,109.06 553.50,102.84 554.55,99.85 555.60,96.82 556.80,94.56 558.00,92.51 559.07,91.39 560.13,90.60 561.20,89.57 562.29,89.25 563.38,89.16 564.47,88.92 565.56,88.40 566.64,88.33 567.73,88.04 568.82,87.59 569.91,87.57 571.00,87.01 572.00,87.25 573.00,87.31 574.00,87.19 575.00,87.18 576.00,87.14 577.00,87.02 578.00,86.88 579.00,86.96 580.00,86.91 581.00,87.08 582.00,87.09 583.00,87.10 584.00,86.82 585.00,87.02 586.00,87.00 587.00,86.62 588.00,86.81 589.00,86.60 590.00,86.57 591.00,86.69 592.00,86.78 593.00,86.54 594.00,86.57 595.00,86.61 596.00,86.61 597.00,86.42 598.00,86.42 599.00,86.33 600.00,86.43 601.00,86.68 602.00,86.34 603.00,86.56 604.00,86.50 605.00,86.57 606.00,86.53 607.00,86.22 608.00,86.31 609.00,86.50 610.00,86.41 611.00,86.48 612.00,86.13 613.00,86.44 614.00,86.25 615.00,86.39 616.00,86.29 617.00,86.19 618.00,86.24 619.00,86.03 620.00,86.37 621.00,86.30 622.00,86.16 623.00,86.11 624.00,86.09 625.00,85.93 626.00,85.80 627.00,85.91 628.00,85.99 629.00,85.90 630.00,85.82 631.00,85.52 632.00,85.52 633.00,85.61 634.00,85.83 635.00,86.06 636.00,86.05 637.00,86.13 638.00,86.17 639.00,86.17 640.00,86.31 641.00,86.69 642.00,86.76 643.00,86.76 644.00,86.87 645.00,86.79 646.00,86.81 647.00,86.91 648.00,87.01 649.00,87.18 650.00,87.59 651.00,87.54 652.00,87.50 653.00,87.56 654.00,87.63 655.00,87.74 656.00,87.89 657.00,88.08 658.00,88.12 659.00,88.25 660.00,88.52 661.00,88.42 662.00,88.53 663.00,88.90 664.00,88.81 665.00,89.05 666.04,89.01 667.07,89.26 668.11,89.08 669.14,89.28 670.18,89.61 671.21,89.47 672.25,89.70 673.29,89.63 674.32,89.68 675.36,89.90 676.39,90.00 677.43,89.93 678.46,90.22 679.50,90.30" fill="none" stroke="#fab393" stroke-width="1.2" stroke-linejoin="round" stroke-linecap="round" />
<polyline points="546.60,137.06 547.80,127.48 549.00,118.13 550.00,111.19 551.00,103.95 552.00,99.90 553.00,96.14 554.00,94.63 555.00,93.01 556.00,91.56 557.00,90.85 558.00,90.46 559.00,89.81 560.00,89.38 561.00,88.95 562.00,88.68 563.00,88.93 564.00,88.64 565.00,88.72 566.00,88.65 567.00,88.63 568.00,88.39 569.00,88.60 570.00,88.44 571.00,88.30 572.00,88.15 573.00,88.08 574.00,88.11 575.00,88.12 576.00,88.09 577.00,88.20 578.00,88.33 579.00,88.10 580.00,88.13 581.00,87.77 582.00,88.09 583.00,87.98 584.00,88.08 585.00,87.83 586.00,87.95 587.00,87.86 588.00,87.97 589.00,87.77 590.00,87.94 591.00,87.93 592.00,87.73 593.00,87.69 594.00,87.77 595.00,87.65 596.00,87.84 597.00,87.80 598.00,87.55 599.00,87.62 600.00,87.30 601.00,87.65 602.00,87.46 603.00,87.11 604.00,87.06 605.00,87.42 606.00,87.34 607.00,87.21 608.00,87.05 609.00,86.92 610.00,86.99 611.00,87.15 612.00,86.97 613.00,86.62 614.00,86.65 615.00,86.54 616.00,86.88 617.00,86.82 618.00,86.81 619.00,86.52 620.00,86.41 621.00,86.29 622.00,86.39 623.00,86.45 624.00,86.48 625.00,86.46 626.00,86.66 627.00,86.74 628.00,86.51 629.00,86.73 630.00,86.48 631.00,86.47 632.00,86.75 633.00,86.47 634.00,86.53 635.00,87.06 636.00,86.87 637.00,86.92 638.00,87.17 639.00,87.30 640.00,87.11 641.00,87.40 642.00,87.14 643.00,87.59 644.00,87.42 645.00,87.48 646.00,87.37 647.00,87.47 648.00,87.70 649.00,87.64 650.00,87.98 651.00,88.18 652.00,87.87 653.00,88.14 654.00,88.09 655.00,88.14 656.00,88.26 657.00,88.15 658.00,88.36 659.00,88.06 660.00,88.36 661.00,88.32 662.00,88.19 663.00,88.24 664.00,88.64 665.00,88.52 666.00,88.49 667.00,88.52 668.00,88.73 669.00,88.66 670.00,88.49 671.00,88.89 672.00,88.88 673.00,88.88 674.00,88.88 675.00,88.90 676.00,88.77 677.00,89.13 678.00,89.03 679.00,88.80 680.00,89.00" fill="none" stroke="#7fd0d2" stroke-width="1.4" stroke-linejoin="round" stroke-linecap="round" />
<polyline points="545.80,130.12 546.60,137.07 547.80,126.87 549.00,117.15 550.00,109.89 551.00,102.97 552.25,98.59 553.50,94.51 554.50,92.85 555.50,91.30 556.50,89.68 557.67,88.92 558.83,88.10 560.00,87.26 561.00,87.10 562.00,86.44 563.00,86.10 564.00,85.83 565.00,85.50 566.00,85.33 567.00,84.90 568.00,84.70 569.00,84.36 570.00,84.27 571.00,83.95 572.00,83.93 573.00,83.45 574.00,83.18 575.00,83.14 576.00,82.68 577.00,82.69 578.00,82.31 579.00,81.96 580.00,81.98 581.00,81.90 582.00,81.42 583.00,81.32 584.00,81.12 585.00,81.08 586.00,80.90 587.00,80.32 588.00,80.25 589.00,80.22 590.00,79.87 591.00,79.70 592.00,79.53 593.00,79.19 594.00,79.09 595.00,79.33 596.00,79.02 597.00,78.93 598.00,78.86 599.00,78.83 600.00,78.77 601.00,78.34 602.00,78.45 603.00,78.09 604.00,78.19 605.00,78.19 606.00,77.94 607.00,77.79 608.00,77.87 609.00,77.70 610.00,77.68 611.00,77.42 612.00,77.31 613.00,77.45 614.00,77.35 615.00,77.14 616.00,77.18 617.00,77.50 618.00,77.36 619.00,77.10 620.00,77.37 621.00,77.36 622.00,77.06 623.00,77.42 624.00,77.08 625.00,77.20 626.00,77.27 627.00,77.17 628.00,77.10 629.00,77.13 630.00,77.18 631.00,77.30 632.00,77.25 633.00,77.34 634.00,77.32 635.00,77.23 636.00,77.23 637.00,77.50 638.00,77.55 639.00,77.35 640.00,77.60 641.00,77.47 642.00,77.40 643.00,77.61 644.00,77.83 645.00,77.73 646.00,77.89 647.00,77.95 648.00,77.98 649.00,77.83 650.00,78.12 651.00,77.84 652.00,78.05 653.00,77.93 654.02,78.11 655.04,78.36 656.06,78.39 657.08,78.51 658.10,78.39 659.12,78.43 660.13,78.34 661.15,78.52 662.17,78.75 663.19,78.57 664.21,78.83 665.23,78.67 666.25,78.92 667.27,78.73 668.29,79.09 669.31,78.81 670.33,78.85 671.35,79.10 672.37,79.23 673.38,79.26 674.40,79.19 675.42,79.37 676.44,79.22 677.46,79.32 678.48,79.36 679.50,79.50" fill="none" stroke="#12c3f3" stroke-width="1.45" stroke-linejoin="round" stroke-linecap="round" />
<polyline points="545.70,149.92 545.70,136.96 546.60,137.01 547.80,126.56 549.00,116.03 550.00,108.95 551.00,102.03 552.07,98.42 553.13,95.03 554.20,91.25 555.25,90.61 556.30,89.77 557.35,88.80 558.40,87.94 559.52,87.48 560.64,86.67 561.76,86.10 562.88,85.66 564.00,85.17 565.00,84.71 566.00,84.30 567.00,83.88 568.00,83.49 569.00,83.21 570.00,82.57 571.00,82.35 572.00,81.78 573.00,81.60 574.00,81.03 575.00,80.79 576.00,80.25 577.00,79.94 578.00,79.50 579.00,79.32 580.00,78.85 581.00,78.54 582.00,78.21 583.00,77.82 584.00,77.70 585.00,77.20 586.00,76.82 587.00,76.52 588.00,76.35 589.00,76.09 590.00,75.67 591.00,75.46 592.00,74.92 593.00,74.93 594.00,74.71 595.00,74.36 596.00,74.14 597.00,74.06 598.00,73.87 599.00,73.71 600.00,73.59 601.00,73.26 602.00,73.08 603.00,72.92 604.00,72.69 605.00,72.59 606.00,72.45 607.00,72.17 608.00,71.94 609.00,71.94 610.00,71.56 611.00,71.61 612.00,71.42 613.00,71.18 614.00,71.00 615.00,71.13 616.00,70.76 617.00,70.86 618.00,70.68 619.00,70.60 620.00,70.34 621.00,70.38 622.00,70.12 623.00,70.10 624.00,70.09 625.00,69.86 626.00,69.61 627.00,69.52 628.00,69.45 629.00,69.46 630.00,69.33 631.00,69.09 632.00,69.03 633.00,68.92 634.00,68.93 635.00,68.84 636.00,69.00 637.00,68.80 638.00,68.75 639.00,68.80 640.00,68.65 641.00,68.58 642.00,68.65 643.00,68.73 644.00,68.56 645.00,68.50 646.00,68.47 647.00,68.53 648.00,68.40 649.00,68.44 650.00,68.40 651.00,68.23 652.00,68.28 653.00,68.40 654.02,68.25 655.04,68.45 656.06,68.29 657.08,68.45 658.10,68.47 659.12,68.58 660.13,68.42 661.15,68.49 662.17,68.62 663.19,68.81 664.21,68.72 665.23,68.87 666.25,68.81 667.27,68.98 668.29,68.75 669.31,69.03 670.33,68.88 671.35,68.91 672.37,69.04 673.38,69.04 674.40,69.26 675.42,69.28 676.44,69.25 677.46,69.15 678.48,69.18 679.50,69.30" fill="none" stroke="#b29de3" stroke-width="1.25" stroke-linejoin="round" stroke-linecap="round" />
<line x1="39.2" y1="114.8" x2="39.2" y2="122.5" stroke="#41a2a6" stroke-width="1.2"/>
<line x1="39.2" y1="122.5" x2="39.2" y2="126" stroke="#45357e" stroke-width="1.2"/>
<line x1="39.2" y1="126" x2="39.2" y2="130" stroke="#fab393" stroke-width="1.2"/>
<line x1="39.2" y1="131" x2="39.2" y2="135.8" stroke="#12c3f3" stroke-width="1.2"/>
<text x="-0.2" y="186.3" font-size="10" text-anchor="start" fill="#000" font-weight="bold" >e</text>
<line x1="34.5" y1="191.2" x2="34.5" y2="325.2" stroke="#3a3a3a" stroke-width="1"/>
<line x1="26.9" y1="202.3" x2="34.5" y2="202.3" stroke="#3a3a3a" stroke-width="1"/>
<text x="24.1" y="205.10000000000002" font-size="8" text-anchor="end" fill="#000" font-weight="normal" >100</text>
<line x1="26.9" y1="230.1125" x2="34.5" y2="230.1125" stroke="#3a3a3a" stroke-width="1"/>
<text x="24.1" y="232.91250000000002" font-size="8" text-anchor="end" fill="#000" font-weight="normal" >75</text>
<line x1="26.9" y1="257.925" x2="34.5" y2="257.925" stroke="#3a3a3a" stroke-width="1"/>
<text x="24.1" y="260.725" font-size="8" text-anchor="end" fill="#000" font-weight="normal" >50</text>
<line x1="26.9" y1="285.7375" x2="34.5" y2="285.7375" stroke="#3a3a3a" stroke-width="1"/>
<text x="24.1" y="288.5375" font-size="8" text-anchor="end" fill="#000" font-weight="normal" >25</text>
<line x1="26.9" y1="313.55" x2="34.5" y2="313.55" stroke="#3a3a3a" stroke-width="1"/>
<text x="24.1" y="316.35" font-size="8" text-anchor="end" fill="#000" font-weight="normal" >0</text>
<line x1="34.0" y1="324.7" x2="168.9" y2="324.7" stroke="#3a3a3a" stroke-width="1"/>
<line x1="43.3" y1="324.7" x2="43.3" y2="332.9" stroke="#3a3a3a" stroke-width="1"/>
<text x="43.3" y="342.3" font-size="8" text-anchor="middle" fill="#000" font-weight="normal" >-1.0</text>
<line x1="84.8" y1="324.7" x2="84.8" y2="332.9" stroke="#3a3a3a" stroke-width="1"/>
<text x="84.8" y="342.3" font-size="8" text-anchor="middle" fill="#000" font-weight="normal" >-0.5</text>
<line x1="126.6" y1="324.7" x2="126.6" y2="332.9" stroke="#3a3a3a" stroke-width="1"/>
<text x="126.6" y="342.3" font-size="8" text-anchor="middle" fill="#000" font-weight="normal" >0.0</text>
<line x1="168.4" y1="324.7" x2="168.4" y2="332.9" stroke="#3a3a3a" stroke-width="1"/>
<text x="168.4" y="342.3" font-size="8" text-anchor="middle" fill="#000" font-weight="normal" >0.5</text>
<text x="101.7" y="353.8" font-size="8" text-anchor="middle" fill="#000">Log [TAL] (g L<tspan dy="-3" font-size="5.5">-1</tspan>)</text>
<text transform="translate(10.0,248.8) rotate(-90) scale(1,1.15)" font-size="8.0" text-anchor="middle" fill="#000">Survival Rate (%)</text>
<text x="91.2" y="306.4" font-size="8" text-anchor="end" fill="#000" font-weight="normal" >IC50 = 1.049</text>
<text x="91.2" y="316.0" font-size="8" text-anchor="end" fill="#000">R<tspan dy="-3" font-size="5.5">2</tspan><tspan dy="3"> = 0.993</tspan></text>
<text x="170.7" y="189.6" font-size="10" text-anchor="start" fill="#000" font-weight="bold" >f</text>
<line x1="209.5" y1="192.2" x2="209.5" y2="326.0" stroke="#3a3a3a" stroke-width="1"/>
<line x1="201.9" y1="203.3" x2="209.5" y2="203.3" stroke="#3a3a3a" stroke-width="1"/>
<text x="199.1" y="206.10000000000002" font-size="8" text-anchor="end" fill="#000" font-weight="normal" >100</text>
<line x1="201.9" y1="231.075" x2="209.5" y2="231.075" stroke="#3a3a3a" stroke-width="1"/>
<text x="199.1" y="233.875" font-size="8" text-anchor="end" fill="#000" font-weight="normal" >75</text>
<line x1="201.9" y1="258.85" x2="209.5" y2="258.85" stroke="#3a3a3a" stroke-width="1"/>
<text x="199.1" y="261.65000000000003" font-size="8" text-anchor="end" fill="#000" font-weight="normal" >50</text>
<line x1="201.9" y1="286.625" x2="209.5" y2="286.625" stroke="#3a3a3a" stroke-width="1"/>
<text x="199.1" y="289.425" font-size="8" text-anchor="end" fill="#000" font-weight="normal" >25</text>
<line x1="201.9" y1="314.4" x2="209.5" y2="314.4" stroke="#3a3a3a" stroke-width="1"/>
<text x="199.1" y="317.2" font-size="8" text-anchor="end" fill="#000" font-weight="normal" >0</text>
<line x1="209.0" y1="325.5" x2="343.1" y2="325.5" stroke="#3a3a3a" stroke-width="1"/>
<line x1="217.9" y1="325.5" x2="217.9" y2="333.4" stroke="#3a3a3a" stroke-width="1"/>
<text x="217.9" y="343.2" font-size="8" text-anchor="middle" fill="#000" font-weight="normal" >-1.0</text>
<line x1="259.5" y1="325.5" x2="259.5" y2="333.4" stroke="#3a3a3a" stroke-width="1"/>
<text x="259.5" y="343.2" font-size="8" text-anchor="middle" fill="#000" font-weight="normal" >-0.5</text>
<line x1="301.2" y1="325.5" x2="301.2" y2="333.4" stroke="#3a3a3a" stroke-width="1"/>
<text x="301.2" y="343.2" font-size="8" text-anchor="middle" fill="#000" font-weight="normal" >0.0</text>
<line x1="342.6" y1="325.5" x2="342.6" y2="333.4" stroke="#3a3a3a" stroke-width="1"/>
<text x="342.6" y="343.2" font-size="8" text-anchor="middle" fill="#000" font-weight="normal" >0.5</text>
<text x="276.2" y="353.8" font-size="8" text-anchor="middle" fill="#000">Log [TAL] (g L<tspan dy="-3" font-size="5.5">-1</tspan>)</text>
<text transform="translate(185.3,248.5) rotate(-90) scale(1,1.15)" font-size="8.0" text-anchor="middle" fill="#000">Survival Rate (%)</text>
<text x="268.2" y="306.4" font-size="8" text-anchor="end" fill="#000" font-weight="normal" >IC50 = 0.9285</text>
<text x="268.2" y="316.5" font-size="8" text-anchor="end" fill="#000">R<tspan dy="-3" font-size="5.5">2</tspan><tspan dy="3"> = 0.9967</tspan></text>
<text x="340.8" y="188.4" font-size="10" text-anchor="start" fill="#000" font-weight="bold" >g</text>
<line x1="381.0" y1="191.4" x2="381.0" y2="325.5" stroke="#3a3a3a" stroke-width="1"/>
<line x1="373.4" y1="202.2" x2="381.0" y2="202.2" stroke="#3a3a3a" stroke-width="1"/>
<text x="370.6" y="205.0" font-size="8" text-anchor="end" fill="#000" font-weight="normal" >100</text>
<line x1="373.4" y1="230.05" x2="381.0" y2="230.05" stroke="#3a3a3a" stroke-width="1"/>
<text x="370.6" y="232.85000000000002" font-size="8" text-anchor="end" fill="#000" font-weight="normal" >75</text>
<line x1="373.4" y1="257.9" x2="381.0" y2="257.9" stroke="#3a3a3a" stroke-width="1"/>
<text x="370.6" y="260.7" font-size="8" text-anchor="end" fill="#000" font-weight="normal" >50</text>
<line x1="373.4" y1="285.75" x2="381.0" y2="285.75" stroke="#3a3a3a" stroke-width="1"/>
<text x="370.6" y="288.55" font-size="8" text-anchor="end" fill="#000" font-weight="normal" >25</text>
<line x1="373.4" y1="313.6" x2="381.0" y2="313.6" stroke="#3a3a3a" stroke-width="1"/>
<text x="370.6" y="316.40000000000003" font-size="8" text-anchor="end" fill="#000" font-weight="normal" >0</text>
<line x1="380.5" y1="325.0" x2="515.1" y2="325.0" stroke="#3a3a3a" stroke-width="1"/>
<line x1="387.4" y1="325.0" x2="387.4" y2="332.9" stroke="#3a3a3a" stroke-width="1"/>
<text x="387.4" y="342.5" font-size="8" text-anchor="middle" fill="#000" font-weight="normal" >-1.0</text>
<line x1="419.5" y1="325.0" x2="419.5" y2="332.9" stroke="#3a3a3a" stroke-width="1"/>
<text x="419.5" y="342.5" font-size="8" text-anchor="middle" fill="#000" font-weight="normal" >-0.5</text>
<line x1="451.5" y1="325.0" x2="451.5" y2="332.9" stroke="#3a3a3a" stroke-width="1"/>
<text x="451.5" y="342.5" font-size="8" text-anchor="middle" fill="#000" font-weight="normal" >0.0</text>
<line x1="483.4" y1="325.0" x2="483.4" y2="332.9" stroke="#3a3a3a" stroke-width="1"/>
<text x="483.4" y="342.5" font-size="8" text-anchor="middle" fill="#000" font-weight="normal" >0.5</text>
<line x1="514.6" y1="325.0" x2="514.6" y2="332.9" stroke="#3a3a3a" stroke-width="1"/>
<text x="514.6" y="342.5" font-size="8" text-anchor="middle" fill="#000" font-weight="normal" >1.0</text>
<text x="448.3" y="353.8" font-size="8" text-anchor="middle" fill="#000">Log [TAL] (g L<tspan dy="-3" font-size="5.5">-1</tspan>)</text>
<text transform="translate(356.3,249.5) rotate(-90) scale(1,1.15)" font-size="8.0" text-anchor="middle" fill="#000">Survival Rate (%)</text>
<text x="386.8" y="305.7" font-size="8" text-anchor="start" fill="#000" font-weight="normal" >IC50 = 3.299</text>
<text x="393.8" y="315.6" font-size="8" text-anchor="start" fill="#000">R<tspan dy="-3" font-size="5.5">2</tspan><tspan dy="3"> = 0.9592</tspan></text>
<text x="509.2" y="190.6" font-size="10" text-anchor="start" fill="#000" font-weight="bold" >h</text>
<line x1="545.5" y1="192.0" x2="545.5" y2="326.0" stroke="#3a3a3a" stroke-width="1"/>
<line x1="537.9" y1="203.2" x2="545.5" y2="203.2" stroke="#3a3a3a" stroke-width="1"/>
<text x="535.1" y="206.0" font-size="8" text-anchor="end" fill="#000" font-weight="normal" >100</text>
<line x1="537.9" y1="231.0" x2="545.5" y2="231.0" stroke="#3a3a3a" stroke-width="1"/>
<text x="535.1" y="233.8" font-size="8" text-anchor="end" fill="#000" font-weight="normal" >75</text>
<line x1="537.9" y1="258.79999999999995" x2="545.5" y2="258.79999999999995" stroke="#3a3a3a" stroke-width="1"/>
<text x="535.1" y="261.59999999999997" font-size="8" text-anchor="end" fill="#000" font-weight="normal" >50</text>
<line x1="537.9" y1="286.59999999999997" x2="545.5" y2="286.59999999999997" stroke="#3a3a3a" stroke-width="1"/>
<text x="535.1" y="289.4" font-size="8" text-anchor="end" fill="#000" font-weight="normal" >25</text>
<line x1="537.9" y1="314.4" x2="545.5" y2="314.4" stroke="#3a3a3a" stroke-width="1"/>
<text x="535.1" y="317.2" font-size="8" text-anchor="end" fill="#000" font-weight="normal" >0</text>
<line x1="545.0" y1="325.5" x2="679.8" y2="325.5" stroke="#3a3a3a" stroke-width="1"/>
<line x1="551.9" y1="325.5" x2="551.9" y2="333.4" stroke="#3a3a3a" stroke-width="1"/>
<text x="551.9" y="343.2" font-size="8" text-anchor="middle" fill="#000" font-weight="normal" >-1.0</text>
<line x1="583.7" y1="325.5" x2="583.7" y2="333.4" stroke="#3a3a3a" stroke-width="1"/>
<text x="583.7" y="343.2" font-size="8" text-anchor="middle" fill="#000" font-weight="normal" >-0.5</text>
<line x1="615.6" y1="325.5" x2="615.6" y2="333.4" stroke="#3a3a3a" stroke-width="1"/>
<text x="615.6" y="343.2" font-size="8" text-anchor="middle" fill="#000" font-weight="normal" >0.0</text>
<line x1="647.5" y1="325.5" x2="647.5" y2="333.4" stroke="#3a3a3a" stroke-width="1"/>
<text x="647.5" y="343.2" font-size="8" text-anchor="middle" fill="#000" font-weight="normal" >0.5</text>
<line x1="679.3" y1="325.5" x2="679.3" y2="333.4" stroke="#3a3a3a" stroke-width="1"/>
<text x="679.3" y="343.2" font-size="8" text-anchor="middle" fill="#000" font-weight="normal" >1.0</text>
<text x="612.0" y="353.8" font-size="8" text-anchor="middle" fill="#000">Log [TAL] (g L<tspan dy="-3" font-size="5.5">-1</tspan>)</text>
<text transform="translate(520.3,250.3) rotate(-90) scale(1,1.15)" font-size="8.0" text-anchor="middle" fill="#000">Survival Rate (%)</text>
<text x="553.4" y="307.5" font-size="8" text-anchor="start" fill="#000" font-weight="normal" >IC50 = 2.919</text>
<text x="560.7" y="319.1" font-size="8" text-anchor="start" fill="#000">R<tspan dy="-3" font-size="5.5">2</tspan><tspan dy="3"> = 0.9704</tspan></text>
<polyline points="43.50,205.42 44.02,205.42 44.53,205.42 45.05,205.42 45.57,205.42 46.08,205.42 46.60,205.42 47.12,205.42 47.63,205.42 48.15,205.42 48.66,205.42 49.18,205.42 49.70,205.42 50.21,205.42 50.73,205.42 51.25,205.42 51.76,205.42 52.28,205.42 52.80,205.42 53.31,205.42 53.83,205.42 54.35,205.42 54.86,205.42 55.38,205.42 55.90,205.42 56.41,205.42 56.93,205.42 57.44,205.42 57.96,205.42 58.48,205.42 58.99,205.42 59.51,205.42 60.03,205.42 60.54,205.42 61.06,205.42 61.58,205.42 62.09,205.42 62.61,205.42 63.13,205.42 63.64,205.42 64.16,205.42 64.68,205.42 65.19,205.42 65.71,205.42 66.22,205.42 66.74,205.42 67.26,205.42 67.77,205.42 68.29,205.42 68.81,205.42 69.32,205.42 69.84,205.42 70.36,205.42 70.87,205.42 71.39,205.42 71.91,205.42 72.42,205.42 72.94,205.42 73.46,205.42 73.97,205.42 74.49,205.42 75.00,205.42 75.52,205.42 76.04,205.42 76.55,205.42 77.07,205.42 77.59,205.42 78.10,205.42 78.62,205.42 79.14,205.42 79.65,205.42 80.17,205.42 80.69,205.42 81.20,205.42 81.72,205.42 82.23,205.42 82.75,205.42 83.27,205.42 83.78,205.42 84.30,205.42 84.82,205.42 85.33,205.42 85.85,205.42 86.37,205.42 86.88,205.42 87.40,205.42 87.92,205.42 88.43,205.42 88.95,205.42 89.47,205.42 89.98,205.42 90.50,205.42 91.01,205.42 91.53,205.42 92.05,205.42 92.56,205.42 93.08,205.42 93.60,205.42 94.11,205.42 94.63,205.43 95.15,205.43 95.66,205.43 96.18,205.43 96.70,205.43 97.21,205.43 97.73,205.43 98.25,205.44 98.76,205.44 99.28,205.44 99.79,205.45 100.31,205.45 100.83,205.46 101.34,205.46 101.86,205.47 102.38,205.48 102.89,205.49 103.41,205.50 103.93,205.51 104.44,205.52 104.96,205.54 105.48,205.56 105.99,205.58 106.51,205.61 107.03,205.64 107.54,205.67 108.06,205.71 108.57,205.76 109.09,205.82 109.61,205.88 110.12,205.95 110.64,206.04 111.16,206.14 111.67,206.25 112.19,206.38 112.71,206.54 113.22,206.71 113.74,206.92 114.26,207.16 114.77,207.43 115.29,207.75 115.81,208.11 116.32,208.53 116.84,209.01 117.35,209.57 117.87,210.20 118.39,210.93 118.90,211.77 119.42,212.72 119.94,213.80 120.45,215.03 120.97,216.42 121.49,217.98 122.00,219.73 122.52,221.69 123.04,223.86 123.55,226.26 124.07,228.89 124.59,231.75 125.10,234.85 125.62,238.17 126.13,241.69 126.65,245.39 127.17,249.25 127.68,253.23 128.20,257.28 128.72,261.37 129.23,265.44 129.75,269.46 130.27,273.39 130.78,277.18 131.30,280.80 131.82,284.23 132.33,287.44 132.85,290.42 133.37,293.18 133.88,295.70 134.40,297.99 134.91,300.06 135.43,301.92 135.95,303.58 136.46,305.05 136.98,306.36 137.50,307.52 138.01,308.54 138.53,309.43 139.05,310.22 139.56,310.90 140.08,311.50 140.60,312.02 141.11,312.47 141.63,312.86 142.15,313.20 142.66,313.50 143.18,313.75 143.69,313.97 144.21,314.16 144.73,314.33 145.24,314.47 145.76,314.60 146.28,314.70 146.79,314.79" fill="none" stroke="#222" stroke-width="0.9" stroke-linejoin="round" stroke-linecap="round" />
<line x1="42.8" y1="199.1" x2="42.8" y2="207.5" stroke="#222" stroke-width="0.9"/>
<line x1="40.699999999999996" y1="199.1" x2="44.9" y2="199.1" stroke="#222" stroke-width="0.9"/>
<line x1="40.699999999999996" y1="207.5" x2="44.9" y2="207.5" stroke="#222" stroke-width="0.9"/>
<circle cx="42.8" cy="203.3" r="2.0" fill="#000"/>
<circle cx="76" cy="202.6" r="2.0" fill="#000"/>
<line x1="101.3" y1="205.5" x2="101.3" y2="208.2" stroke="#222" stroke-width="0.9"/>
<line x1="99.2" y1="205.5" x2="103.39999999999999" y2="205.5" stroke="#222" stroke-width="0.9"/>
<line x1="99.2" y1="208.2" x2="103.39999999999999" y2="208.2" stroke="#222" stroke-width="0.9"/>
<circle cx="101.3" cy="206.8" r="2.0" fill="#000"/>
<line x1="116" y1="211.5" x2="116" y2="218.6" stroke="#222" stroke-width="0.9"/>
<line x1="113.9" y1="211.5" x2="118.1" y2="211.5" stroke="#222" stroke-width="0.9"/>
<line x1="113.9" y1="218.6" x2="118.1" y2="218.6" stroke="#222" stroke-width="0.9"/>
<circle cx="116" cy="215.2" r="2.0" fill="#000"/>
<line x1="126.6" y1="236.2" x2="126.6" y2="253" stroke="#222" stroke-width="0.9"/>
<line x1="124.5" y1="236.2" x2="128.7" y2="236.2" stroke="#222" stroke-width="0.9"/>
<line x1="124.5" y1="253" x2="128.7" y2="253" stroke="#222" stroke-width="0.9"/>
<circle cx="126.6" cy="244.6" r="2.0" fill="#000"/>
<line x1="134.8" y1="297.9" x2="134.8" y2="306.3" stroke="#222" stroke-width="0.9"/>
<line x1="132.70000000000002" y1="297.9" x2="136.9" y2="297.9" stroke="#222" stroke-width="0.9"/>
<line x1="132.70000000000002" y1="306.3" x2="136.9" y2="306.3" stroke="#222" stroke-width="0.9"/>
<circle cx="134.8" cy="301.5" r="2.0" fill="#000"/>
<circle cx="141.5" cy="313.4" r="2.0" fill="#000"/>
<circle cx="146.8" cy="312.4" r="2.0" fill="#000"/>
<polyline points="217.90,204.19 218.42,204.19 218.93,204.19 219.45,204.19 219.97,204.19 220.48,204.19 221.00,204.19 221.52,204.19 222.03,204.19 222.55,204.19 223.07,204.19 223.58,204.19 224.10,204.19 224.62,204.19 225.13,204.19 225.65,204.19 226.17,204.19 226.68,204.19 227.20,204.19 227.72,204.19 228.23,204.19 228.75,204.19 229.27,204.19 229.78,204.19 230.30,204.19 230.82,204.19 231.33,204.19 231.85,204.19 232.37,204.19 232.88,204.19 233.40,204.19 233.92,204.19 234.43,204.19 234.95,204.19 235.47,204.19 235.98,204.19 236.50,204.19 237.02,204.19 237.53,204.19 238.05,204.19 238.57,204.19 239.08,204.19 239.60,204.19 240.12,204.19 240.63,204.19 241.15,204.19 241.67,204.19 242.18,204.19 242.70,204.19 243.22,204.19 243.73,204.19 244.25,204.19 244.77,204.19 245.28,204.19 245.80,204.19 246.32,204.19 246.83,204.19 247.35,204.19 247.87,204.19 248.38,204.19 248.90,204.19 249.42,204.19 249.93,204.19 250.45,204.19 250.97,204.19 251.48,204.19 252.00,204.19 252.52,204.19 253.03,204.19 253.55,204.19 254.07,204.19 254.58,204.19 255.10,204.19 255.62,204.19 256.13,204.19 256.65,204.19 257.17,204.19 257.68,204.19 258.20,204.19 258.72,204.19 259.23,204.19 259.75,204.19 260.27,204.19 260.78,204.19 261.30,204.19 261.82,204.19 262.33,204.19 262.85,204.19 263.37,204.19 263.88,204.19 264.40,204.19 264.92,204.19 265.43,204.19 265.95,204.19 266.47,204.20 266.98,204.20 267.50,204.20 268.02,204.20 268.53,204.20 269.05,204.20 269.57,204.21 270.08,204.21 270.60,204.21 271.12,204.21 271.63,204.22 272.15,204.22 272.67,204.23 273.18,204.24 273.70,204.25 274.22,204.26 274.73,204.27 275.25,204.28 275.77,204.30 276.28,204.32 276.80,204.34 277.32,204.36 277.83,204.39 278.35,204.43 278.87,204.47 279.38,204.51 279.90,204.57 280.42,204.63 280.93,204.71 281.45,204.80 281.96,204.90 282.48,205.02 283.00,205.16 283.51,205.32 284.03,205.51 284.55,205.74 285.06,206.00 285.58,206.30 286.10,206.65 286.61,207.06 287.13,207.53 287.65,208.08 288.16,208.72 288.68,209.45 289.20,210.30 289.71,211.27 290.23,212.38 290.75,213.66 291.26,215.11 291.78,216.76 292.30,218.62 292.81,220.70 293.33,223.03 293.85,225.61 294.36,228.44 294.88,231.54 295.40,234.88 295.91,238.46 296.43,242.25 296.95,246.23 297.46,250.35 297.98,254.57 298.50,258.83 299.01,263.09 299.53,267.30 300.05,271.39 300.56,275.34 301.08,279.10 301.60,282.64 302.11,285.94 302.63,288.99 303.15,291.78 303.66,294.31 304.18,296.60 304.70,298.64 305.21,300.46 305.73,302.08 306.25,303.50 306.76,304.74 307.28,305.83 307.80,306.78 308.31,307.61 308.83,308.32 309.35,308.94 309.86,309.48 310.38,309.94 310.90,310.34 311.41,310.68 311.93,310.98 312.45,311.23 312.96,311.44 313.48,311.63 314.00,311.79 314.51,311.93 315.03,312.04 315.55,312.14 316.06,312.23 316.58,312.30 317.10,312.36 317.61,312.42 318.13,312.46 318.65,312.50 319.16,312.54 319.68,312.57 320.20,312.59 320.71,312.61 321.23,312.63" fill="none" stroke="#222" stroke-width="0.9" stroke-linejoin="round" stroke-linecap="round" />
<circle cx="217.8" cy="203.6" r="2.0" fill="#000"/>
<circle cx="251" cy="203.3" r="2.0" fill="#000"/>
<circle cx="275.9" cy="206.8" r="2.0" fill="#000"/>
<line x1="290.5" y1="209.3" x2="290.5" y2="213.8" stroke="#222" stroke-width="0.9"/>
<line x1="288.4" y1="209.3" x2="292.6" y2="209.3" stroke="#222" stroke-width="0.9"/>
<line x1="288.4" y1="213.8" x2="292.6" y2="213.8" stroke="#222" stroke-width="0.9"/>
<circle cx="290.5" cy="211.8" r="2.0" fill="#000"/>
<line x1="301.2" y1="278.4" x2="301.2" y2="284.7" stroke="#222" stroke-width="0.9"/>
<line x1="299.09999999999997" y1="278.4" x2="303.3" y2="278.4" stroke="#222" stroke-width="0.9"/>
<line x1="299.09999999999997" y1="284.7" x2="303.3" y2="284.7" stroke="#222" stroke-width="0.9"/>
<circle cx="301.2" cy="281.5" r="2.0" fill="#000"/>
<circle cx="309.2" cy="303.6" r="2.0" fill="#000"/>
<circle cx="315.9" cy="313.7" r="2.0" fill="#000"/>
<circle cx="321.3" cy="313.7" r="2.0" fill="#000"/>
<polyline points="387.40,213.12 387.93,213.12 388.46,213.12 388.99,213.12 389.51,213.12 390.04,213.12 390.57,213.12 391.10,213.12 391.63,213.12 392.16,213.12 392.68,213.12 393.21,213.12 393.74,213.12 394.27,213.12 394.80,213.12 395.33,213.12 395.85,213.12 396.38,213.12 396.91,213.12 397.44,213.12 397.97,213.12 398.50,213.12 399.02,213.12 399.55,213.12 400.08,213.12 400.61,213.12 401.14,213.12 401.67,213.12 402.19,213.12 402.72,213.12 403.25,213.12 403.78,213.12 404.31,213.12 404.84,213.12 405.36,213.12 405.89,213.12 406.42,213.12 406.95,213.12 407.48,213.12 408.01,213.12 408.54,213.12 409.06,213.12 409.59,213.12 410.12,213.12 410.65,213.12 411.18,213.12 411.71,213.12 412.23,213.12 412.76,213.12 413.29,213.12 413.82,213.12 414.35,213.12 414.88,213.12 415.40,213.12 415.93,213.12 416.46,213.12 416.99,213.12 417.52,213.12 418.05,213.12 418.57,213.12 419.10,213.12 419.63,213.12 420.16,213.12 420.69,213.12 421.22,213.12 421.74,213.12 422.27,213.12 422.80,213.12 423.33,213.12 423.86,213.12 424.39,213.12 424.92,213.12 425.44,213.12 425.97,213.12 426.50,213.12 427.03,213.12 427.56,213.12 428.09,213.12 428.61,213.12 429.14,213.12 429.67,213.12 430.20,213.12 430.73,213.12 431.26,213.12 431.78,213.12 432.31,213.12 432.84,213.12 433.37,213.12 433.90,213.12 434.43,213.12 434.95,213.12 435.48,213.12 436.01,213.12 436.54,213.12 437.07,213.12 437.60,213.12 438.12,213.12 438.65,213.13 439.18,213.13 439.71,213.13 440.24,213.13 440.77,213.13 441.29,213.13 441.82,213.13 442.35,213.13 442.88,213.14 443.41,213.14 443.94,213.14 444.47,213.14 444.99,213.15 445.52,213.15 446.05,213.15 446.58,213.16 447.11,213.16 447.64,213.17 448.16,213.17 448.69,213.18 449.22,213.18 449.75,213.19 450.28,213.20 450.81,213.21 451.33,213.22 451.86,213.23 452.39,213.24 452.92,213.25 453.45,213.27 453.98,213.29 454.50,213.30 455.03,213.32 455.56,213.35 456.09,213.37 456.62,213.40 457.15,213.43 457.67,213.47 458.20,213.50 458.73,213.55 459.26,213.59 459.79,213.65 460.32,213.71 460.85,213.77 461.37,213.84 461.90,213.92 462.43,214.01 462.96,214.11 463.49,214.22 464.02,214.34 464.54,214.47 465.07,214.62 465.60,214.78 466.13,214.96 466.66,215.16 467.19,215.39 467.71,215.63 468.24,215.91 468.77,216.21 469.30,216.54 469.83,216.91 470.36,217.32 470.88,217.77 471.41,218.26 471.94,218.81 472.47,219.41 473.00,220.07 473.53,220.80 474.05,221.61 474.58,222.49 475.11,223.45 475.64,224.51 476.17,225.67 476.70,226.93 477.22,228.30 477.75,229.80 478.28,231.43 478.81,233.19 479.34,235.09 479.87,237.14 480.40,239.35 480.92,241.71 481.45,244.24 481.98,246.93 482.51,249.78 483.04,252.80 483.57,255.98 484.09,259.31 484.62,262.79 485.15,266.40 485.68,270.13 486.21,273.97 486.74,277.90 487.26,281.90 487.79,285.95 488.32,290.03 488.85,294.11 489.38,298.18 489.91,302.22 490.43,306.19 490.96,310.08 491.49,313.88 492.02,317.56 492.55,321.12 493.08,324.53" fill="none" stroke="#222" stroke-width="0.9" stroke-linejoin="round" stroke-linecap="round" />
<circle cx="387.3" cy="202.9" r="2.0" fill="#000"/>
<circle cx="461.8" cy="216.0" r="2.0" fill="#000"/>
<circle cx="469.9" cy="226.0" r="2.0" fill="#000"/>
<circle cx="476.5" cy="228.6" r="2.0" fill="#000"/>
<line x1="481.5" y1="232.3" x2="481.5" y2="255.8" stroke="#222" stroke-width="0.9"/>
<line x1="479.4" y1="232.3" x2="483.6" y2="232.3" stroke="#222" stroke-width="0.9"/>
<line x1="479.4" y1="255.8" x2="483.6" y2="255.8" stroke="#222" stroke-width="0.9"/>
<circle cx="481.5" cy="244.2" r="2.0" fill="#000"/>
<line x1="485.6" y1="266.8" x2="485.6" y2="271" stroke="#222" stroke-width="0.9"/>
<line x1="483.5" y1="266.8" x2="487.70000000000005" y2="266.8" stroke="#222" stroke-width="0.9"/>
<line x1="483.5" y1="271" x2="487.70000000000005" y2="271" stroke="#222" stroke-width="0.9"/>
<circle cx="485.6" cy="268.9" r="2.0" fill="#000"/>
<circle cx="489.4" cy="312.4" r="2.0" fill="#000"/>
<circle cx="492.6" cy="313.0" r="2.0" fill="#000"/>
<polyline points="551.90,207.43 552.43,207.43 552.95,207.43 553.48,207.43 554.01,207.43 554.53,207.43 555.06,207.43 555.59,207.43 556.11,207.43 556.64,207.43 557.17,207.43 557.69,207.43 558.22,207.43 558.75,207.43 559.27,207.43 559.80,207.43 560.33,207.43 560.85,207.43 561.38,207.43 561.91,207.43 562.43,207.43 562.96,207.43 563.49,207.43 564.01,207.43 564.54,207.43 565.07,207.43 565.59,207.43 566.12,207.43 566.65,207.43 567.18,207.43 567.70,207.43 568.23,207.43 568.76,207.43 569.28,207.43 569.81,207.43 570.34,207.43 570.86,207.43 571.39,207.43 571.92,207.44 572.44,207.44 572.97,207.44 573.50,207.44 574.02,207.44 574.55,207.44 575.08,207.44 575.60,207.44 576.13,207.44 576.66,207.44 577.18,207.44 577.71,207.45 578.24,207.45 578.76,207.45 579.29,207.45 579.82,207.45 580.34,207.45 580.87,207.45 581.40,207.46 581.92,207.46 582.45,207.46 582.98,207.46 583.50,207.47 584.03,207.47 584.56,207.47 585.08,207.47 585.61,207.48 586.14,207.48 586.66,207.48 587.19,207.49 587.72,207.49 588.24,207.50 588.77,207.50 589.30,207.51 589.82,207.51 590.35,207.52 590.88,207.52 591.40,207.53 591.93,207.54 592.46,207.54 592.98,207.55 593.51,207.56 594.04,207.57 594.57,207.58 595.09,207.59 595.62,207.60 596.15,207.61 596.67,207.62 597.20,207.64 597.73,207.65 598.25,207.67 598.78,207.68 599.31,207.70 599.83,207.72 600.36,207.73 600.89,207.75 601.41,207.78 601.94,207.80 602.47,207.82 602.99,207.85 603.52,207.88 604.05,207.91 604.57,207.94 605.10,207.97 605.63,208.01 606.15,208.05 606.68,208.09 607.21,208.13 607.73,208.18 608.26,208.23 608.79,208.28 609.31,208.34 609.84,208.40 610.37,208.46 610.89,208.53 611.42,208.60 611.95,208.68 612.47,208.76 613.00,208.84 613.53,208.94 614.05,209.03 614.58,209.14 615.11,209.25 615.63,209.37 616.16,209.50 616.69,209.63 617.21,209.77 617.74,209.93 618.27,210.09 618.79,210.26 619.32,210.44 619.85,210.64 620.37,210.85 620.90,211.07 621.43,211.30 621.95,211.55 622.48,211.82 623.01,212.10 623.54,212.40 624.06,212.71 624.59,213.05 625.12,213.41 625.64,213.79 626.17,214.19 626.70,214.62 627.22,215.07 627.75,215.55 628.28,216.06 628.80,216.59 629.33,217.16 629.86,217.77 630.38,218.40 630.91,219.08 631.44,219.79 631.96,220.54 632.49,221.34 633.02,222.18 633.54,223.06 634.07,223.99 634.60,224.97 635.12,226.00 635.65,227.09 636.18,228.23 636.70,229.42 637.23,230.68 637.76,231.99 638.28,233.37 638.81,234.80 639.34,236.31 639.86,237.88 640.39,239.51 640.92,241.21 641.44,242.98 641.97,244.82 642.50,246.72 643.02,248.69 643.55,250.73 644.08,252.84 644.60,255.01 645.13,257.24 645.66,259.54 646.18,261.89 646.71,264.30 647.24,266.77 647.76,269.28 648.29,271.85 648.82,274.45 649.34,277.09 649.87,279.77 650.40,282.47 650.92,285.20 651.45,287.95 651.98,290.71 652.51,293.47 653.03,296.24 653.56,299.01 654.09,301.76 654.61,304.50 655.14,307.22 655.67,309.91 656.19,312.57 656.72,315.20 657.25,317.79" fill="none" stroke="#222" stroke-width="0.9" stroke-linejoin="round" stroke-linecap="round" />
<circle cx="552" cy="203.3" r="2.0" fill="#000"/>
<circle cx="626.5" cy="218.5" r="2.0" fill="#000"/>
<line x1="634.7" y1="230.8" x2="634.7" y2="240.3" stroke="#222" stroke-width="0.9"/>
<line x1="632.6" y1="230.8" x2="636.8000000000001" y2="230.8" stroke="#222" stroke-width="0.9"/>
<line x1="632.6" y1="240.3" x2="636.8000000000001" y2="240.3" stroke="#222" stroke-width="0.9"/>
<circle cx="634.7" cy="235.6" r="2.0" fill="#000"/>
<line x1="640.8" y1="231.4" x2="640.8" y2="236.6" stroke="#222" stroke-width="0.9"/>
<line x1="638.6999999999999" y1="231.4" x2="642.9" y2="231.4" stroke="#222" stroke-width="0.9"/>
<line x1="638.6999999999999" y1="236.6" x2="642.9" y2="236.6" stroke="#222" stroke-width="0.9"/>
<circle cx="640.8" cy="234.0" r="2.0" fill="#000"/>
<circle cx="645.8" cy="258.6" r="2.0" fill="#000"/>
<circle cx="649.8" cy="288.9" r="2.0" fill="#000"/>
<circle cx="653.8" cy="313.0" r="2.0" fill="#000"/>
<line x1="657.1" y1="310.5" x2="657.1" y2="318.3" stroke="#222" stroke-width="0.9"/>
<line x1="655.0" y1="310.5" x2="659.2" y2="310.5" stroke="#222" stroke-width="0.9"/>
<line x1="655.0" y1="318.3" x2="659.2" y2="318.3" stroke="#222" stroke-width="0.9"/>
<circle cx="657.1" cy="314.1" r="2.0" fill="#000"/>
</svg></body></html>
